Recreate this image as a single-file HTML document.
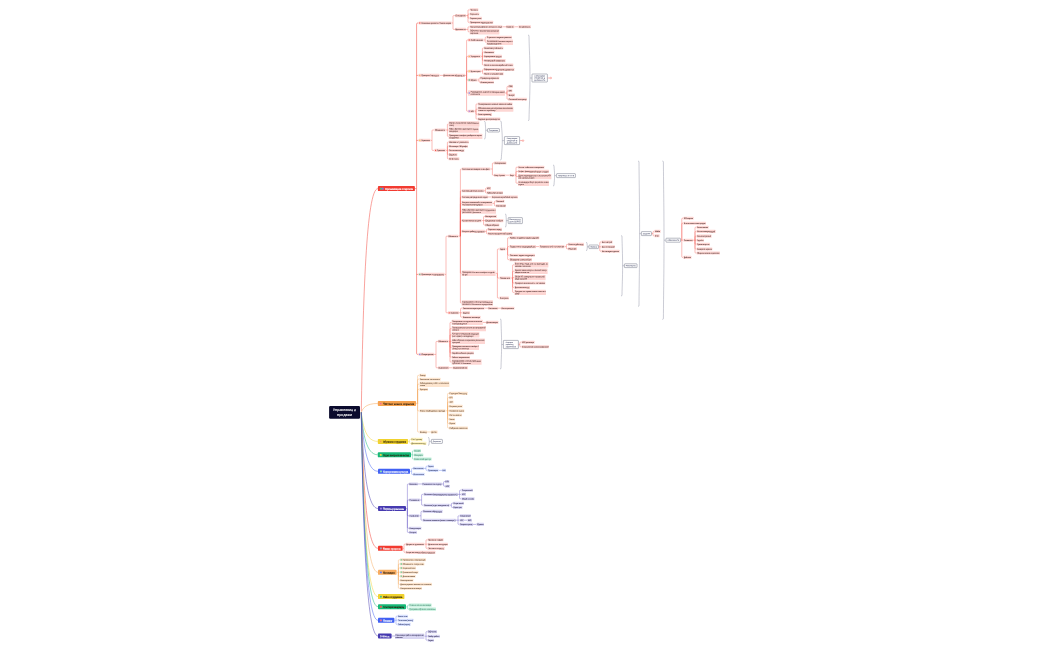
<!DOCTYPE html>
<html lang="ru"><head><meta charset="utf-8"><title>Управление и продажи</title>
<style>html,body{margin:0;padding:0;background:#fff;overflow:hidden}svg{display:block}</style></head>
<body>
<svg width="1050" height="650" viewBox="0 0 1050 650" font-family="'Liberation Sans', sans-serif" text-rendering="geometricPrecision">
<path d="M415 188.6H416.6 M416.6 188.6V24.1Q416.6 23 417.7 23H418.6 M416.6 188.6V353.3Q416.6 354.4 417.7 354.4H418.6 M416.6 75.4H418.6M416.6 140.4H418.6M416.6 274.4H418.6" stroke="#f4574d" stroke-width="0.6" fill="none"/>
<g stroke="#f4574d" stroke-width="0.4" fill="none"><path d="M451.6 23H453"/><path d="M453 23V16.3Q453 15.6 453.7 15.6H455"/><path d="M453 23V28.7Q453 29.4 453.7 29.4H455"/></g>
<g stroke="#f4574d" stroke-width="0.4" fill="none"><path d="M466 15.6H468"/><path d="M468 15.6V10.5Q468 9.8 468.7 9.8H469.6"/><path d="M468 15.6V14.7Q468 14 468.7 14H469.6"/><path d="M468 15.6V17.5Q468 18.2 468.7 18.2H469.6"/><path d="M468 15.6V21.7Q468 22.4 468.7 22.4H469.6"/></g>
<g stroke="#f4574d" stroke-width="0.4" fill="none"><path d="M466 29.4H468"/><path d="M468 29.4V27.5Q468 26.8 468.7 26.8H469.6"/><path d="M468 29.4V31.1Q468 31.8 468.7 31.8H469.6"/></g>
<g stroke="#f4574d" stroke-width="0.4" fill="none"><path d="M502.4 26.8H506"/></g>
<g stroke="#f4574d" stroke-width="0.4" fill="none"><path d="M514.4 26.8H518.4"/></g>
<g stroke="#f4574d" stroke-width="0.4" fill="none"><path d="M439.4 75.4H443"/></g>
<g stroke="#f4574d" stroke-width="0.4" fill="none"><path d="M465 75.4H466.6"/><path d="M466.6 75.4V40.7Q466.6 40 467.3 40H468"/><path d="M466.6 75.4V57.1Q466.6 56.4 467.3 56.4H468"/><path d="M466.6 75.4V71.9Q466.6 71.2 467.3 71.2H468"/><path d="M466.6 75.4V79.3Q466.6 80 467.3 80H468"/><path d="M466.6 75.4V92.3Q466.6 93 467.3 93H468"/><path d="M466.6 75.4V110.5Q466.6 111.2 467.3 111.2H468"/></g>
<g stroke="#f4574d" stroke-width="0.4" fill="none"><path d="M483.6 40H485.2"/><path d="M485.2 40V37.9Q485.2 37.2 485.9 37.2H486.4"/><path d="M485.2 40V41.6Q485.2 42.3 485.9 42.3H486.4"/></g>
<g stroke="#f4574d" stroke-width="0.4" fill="none"><path d="M480.6 56.4H482.4"/><path d="M482.4 56.4V48.7Q482.4 48 483.1 48H483.6"/><path d="M482.4 56.4V52.9Q482.4 52.2 483.1 52.2H483.6"/><path d="M482.4 56.4H483.6"/><path d="M482.4 56.4V59.9Q482.4 60.6 483.1 60.6H483.6"/><path d="M482.4 56.4V64.3Q482.4 65 483.1 65H483.6"/></g>
<g stroke="#f4574d" stroke-width="0.4" fill="none"><path d="M481 71.2H482.6"/><path d="M482.6 71.2V70.1Q482.6 69.4 483.3 69.4H483.6"/><path d="M482.6 71.2V73.1Q482.6 73.8 483.3 73.8H483.6"/></g>
<g stroke="#f4574d" stroke-width="0.4" fill="none"><path d="M477.6 80H479"/><path d="M479 80V78.7Q479 78 479.7 78H480"/><path d="M479 80V81.5Q479 82.2 479.7 82.2H480"/></g>
<g stroke="#f4574d" stroke-width="0.4" fill="none"><path d="M505 93H507"/><path d="M507 93V87.1Q507 86.4 507.7 86.4H508.2"/><path d="M507 93V91.5Q507 90.8 507.7 90.8H508.2"/><path d="M507 93V94.3Q507 95 507.7 95H508.2"/><path d="M507 93V98.5Q507 99.2 507.7 99.2H508.2"/></g>
<g stroke="#f4574d" stroke-width="0.4" fill="none"><path d="M474.4 111.2H476"/><path d="M476 111.2V104.7Q476 104 476.7 104H477.6"/><path d="M476 111.2V109.8Q476 109.1 476.7 109.1H477.6"/><path d="M476 111.2V113.7Q476 114.4 476.7 114.4H477.6"/><path d="M476 111.2V118.3Q476 119 476.7 119H477.6"/></g>
<g stroke="#f4574d" stroke-width="0.4" fill="none"><path d="M430.4 140.4H432"/><path d="M432 140.4V130.7Q432 130 432.7 130H434.4"/><path d="M432 140.4V149.7Q432 150.4 432.7 150.4H434.4"/></g>
<g stroke="#f4574d" stroke-width="0.4" fill="none"><path d="M445.6 130H447.4"/><path d="M447.4 130V124.7Q447.4 124 448.1 124H448.6"/><path d="M447.4 130H448.6"/><path d="M447.4 130V135.7Q447.4 136.4 448.1 136.4H448.6"/></g>
<g stroke="#f4574d" stroke-width="0.4" fill="none"><path d="M445.6 150.4H447.4"/><path d="M447.4 150.4V142.7Q447.4 142 448.1 142H448.6"/><path d="M447.4 150.4V146.9Q447.4 146.2 448.1 146.2H448.6"/><path d="M447.4 150.4H448.6"/><path d="M447.4 150.4V153.9Q447.4 154.6 448.1 154.6H448.6"/><path d="M447.4 150.4V158.1Q447.4 158.8 448.1 158.8H448.6"/></g>
<g stroke="#f4574d" stroke-width="0.4" fill="none"><path d="M444.4 274.4H446"/><path d="M446 274.4V236.9Q446 236.2 446.7 236.2H448"/><path d="M446 274.4V312.1Q446 312.8 446.7 312.8H448"/></g>
<g stroke="#f4574d" stroke-width="0.4" fill="none"><path d="M458.4 236.2H460.4"/><path d="M460.4 236.2V169.7Q460.4 169 461.1 169H461.6"/><path d="M460.4 236.2V191.5Q460.4 190.8 461.1 190.8H461.6"/><path d="M460.4 236.2V197.7Q460.4 197 461.1 197H461.6"/><path d="M460.4 236.2V204.1Q460.4 203.4 461.1 203.4H461.6"/><path d="M460.4 236.2V211.7Q460.4 211 461.1 211H461.6"/><path d="M460.4 236.2V221.3Q460.4 220.6 461.1 220.6H461.6"/><path d="M460.4 236.2V232.1Q460.4 231.4 461.1 231.4H461.6"/><path d="M460.4 236.2V272.6Q460.4 273.3 461.1 273.3H461.6"/><path d="M460.4 236.2V302.3Q460.4 303 461.1 303H461.6"/></g>
<g stroke="#f4574d" stroke-width="0.4" fill="none"><path d="M490.4 169H492.4"/><path d="M492.4 169V163.7Q492.4 163 493.1 163H494"/><path d="M492.4 169V174.5Q492.4 175.2 493.1 175.2H494"/></g>
<g stroke="#f4574d" stroke-width="0.4" fill="none"><path d="M505.4 175.2H509.6"/></g>
<g stroke="#f4574d" stroke-width="0.4" fill="none"><path d="M514.4 175.2H516"/><path d="M516 175.2V167.9Q516 167.2 516.7 167.2H518"/><path d="M516 175.2V172.1Q516 171.4 516.7 171.4H518"/><path d="M516 175.2V175.9Q516 176.6 516.7 176.6H518"/><path d="M516 175.2V182.5Q516 183.2 516.7 183.2H518"/></g>
<g stroke="#f4574d" stroke-width="0.4" fill="none"><path d="M484 190.8H485.4"/><path d="M485.4 190.8V189.1Q485.4 188.4 486.1 188.4H486.4"/><path d="M485.4 190.8V192.1Q485.4 192.8 486.1 192.8H486.4"/></g>
<g stroke="#f4574d" stroke-width="0.4" fill="none"><path d="M488 197H491.4"/></g>
<g stroke="#f4574d" stroke-width="0.4" fill="none"><path d="M492.4 203.4H494.4"/><path d="M494.4 203.4V201.9Q494.4 201.2 495.1 201.2H495.6"/><path d="M494.4 203.4V205.1Q494.4 205.8 495.1 205.8H495.6"/></g>
<g stroke="#f4574d" stroke-width="0.4" fill="none"><path d="M481.6 220.6H483.6"/><path d="M483.6 220.6V217.1Q483.6 216.4 484.3 216.4H485"/><path d="M483.6 220.6H485"/><path d="M483.6 220.6V224.3Q483.6 225 484.3 225H485"/></g>
<g stroke="#f4574d" stroke-width="0.4" fill="none"><path d="M485 231.4H486.4"/><path d="M486.4 231.4V230.1Q486.4 229.4 487.1 229.4H487.6"/><path d="M486.4 231.4V232.9Q486.4 233.6 487.1 233.6H487.6"/></g>
<g stroke="#f4574d" stroke-width="0.4" fill="none"><path d="M495.6 273.3H497.4"/><path d="M497.4 273.3V249.7Q497.4 249 498.1 249H499.4"/><path d="M497.4 273.3V277.3Q497.4 278 498.1 278H499.4"/><path d="M497.4 273.3V297.3Q497.4 298 498.1 298H499.4"/></g>
<g stroke="#f4574d" stroke-width="0.4" fill="none"><path d="M505.6 249H507.6"/><path d="M507.6 249V238.5Q507.6 237.8 508.3 237.8H509.4"/><path d="M507.6 249V247.3Q507.6 246.6 508.3 246.6H509.4"/><path d="M507.6 249V254.5Q507.6 255.2 508.3 255.2H509.4"/><path d="M507.6 249V258.9Q507.6 259.6 508.3 259.6H509.4"/></g>
<g stroke="#f4574d" stroke-width="0.4" fill="none"><path d="M536 246.6H539.4"/></g>
<g stroke="#f4574d" stroke-width="0.4" fill="none"><path d="M564.4 246.6H566.4"/><path d="M566.4 246.6V245.1Q566.4 244.4 567.1 244.4H568"/><path d="M566.4 246.6V248.1Q566.4 248.8 567.1 248.8H568"/></g>
<g stroke="#f4574d" stroke-width="0.4" fill="none"><path d="M510.6 278H512.6"/><path d="M512.6 278V265.5Q512.6 264.8 513.3 264.8H514.4"/><path d="M512.6 278V271.9Q512.6 271.2 513.3 271.2H514.4"/><path d="M512.6 278V278Q512.6 277.6 513 277.6H514.4"/><path d="M512.6 278V282.3Q512.6 283 513.3 283H514.4"/><path d="M512.6 278V286.7Q512.6 287.4 513.3 287.4H514.4"/><path d="M512.6 278V291.7Q512.6 292.4 513.3 292.4H514.4"/></g>
<g stroke="#f4574d" stroke-width="0.4" fill="none"><path d="M459 312.8H460.6"/><path d="M460.6 312.8V308.9Q460.6 308.2 461.3 308.2H462.4"/><path d="M460.6 312.8H462.4"/><path d="M460.6 312.8V316.5Q460.6 317.2 461.3 317.2H462.4"/></g>
<g stroke="#f4574d" stroke-width="0.4" fill="none"><path d="M484.4 308.2H488"/></g>
<g stroke="#f4574d" stroke-width="0.4" fill="none"><path d="M498 308.2H501"/></g>
<g stroke="#f4574d" stroke-width="0.4" fill="none"><path d="M434 354.4H436"/><path d="M436 354.4V342.1Q436 341.4 436.7 341.4H438"/><path d="M436 354.4V367.1Q436 367.8 436.7 367.8H438"/></g>
<g stroke="#f4574d" stroke-width="0.4" fill="none"><path d="M448.4 341.4H450"/><path d="M450 341.4V323.1Q450 322.4 450.7 322.4H451.6"/><path d="M450 341.4V329.3Q450 328.6 450.7 328.6H451.6"/><path d="M450 341.4V335.5Q450 334.8 450.7 334.8H451.6"/><path d="M450 341.4V341.4Q450 341.2 450.2 341.2H451.6"/><path d="M450 341.4V346.7Q450 347.4 450.7 347.4H451.6"/><path d="M450 341.4V352.3Q450 353 450.7 353H451.6"/><path d="M450 341.4V356.5Q450 357.2 450.7 357.2H451.6"/><path d="M450 341.4V361.3Q450 362 450.7 362H451.6"/></g>
<g stroke="#f4574d" stroke-width="0.4" fill="none"><path d="M482.8 322.4H486"/></g>
<g stroke="#f4574d" stroke-width="0.4" fill="none"><path d="M449 367.8H452.6"/></g>
<path d="M528 35Q529 35 529 36C529.25 50.7 530 59.1 530 78C530 96.72 529.25 105.04 529 119.6Q529 120.6 528 120.6M530 78H532" stroke="#6d7088" stroke-width="0.36" fill="none"/>
<path d="M547.4 78h2.6m1.6 0a0.8 0.8 0 1 0 -1.6 0a0.8 0.8 0 1 0 1.6 0" stroke="#f4574d" stroke-width="0.4" fill="#fff"/>
<path d="M484.2 121.4Q485.2 121.4 485.2 122.4C485.32 125.17 485.7 126.75 485.7 130.3C485.7 133.77 485.32 135.31 485.2 138Q485.2 139 484.2 139M485.7 130.3H487.5" stroke="#6d7088" stroke-width="0.36" fill="none"/>
<path d="M500.3 121Q501.3 121 501.3 122C501.55 128.51 502.3 132.23 502.3 140.6C502.3 148.88 501.55 152.56 501.3 159Q501.3 160 500.3 160M502.3 140.6H504.3" stroke="#6d7088" stroke-width="0.36" fill="none"/>
<path d="M519.6 140.6h2.6m1.6 0a0.8 0.8 0 1 0 -1.6 0a0.8 0.8 0 1 0 1.6 0" stroke="#f4574d" stroke-width="0.4" fill="#fff"/>
<path d="M553 165Q554 165 554 166C554.15 169.36 554.6 171.28 554.6 175.6C554.6 179.83 554.15 181.71 554 185Q554 186 553 186M554.6 175.6H556.2" stroke="#6d7088" stroke-width="0.36" fill="none"/>
<path d="M505 214Q506 214 506 215C506.07 216.96 506.3 218.08 506.3 220.6C506.3 223.03 506.07 224.11 506 226Q506 227 505 227M506.3 220.6H508.2" stroke="#6d7088" stroke-width="0.36" fill="none"/>
<path d="M586 242.4Q587 242.4 587 243.4C587.08 244.59 587.3 245.27 587.3 246.8C587.3 248.06 587.08 248.62 587 249.6Q587 250.6 586 250.6M587.3 246.8H589" stroke="#6d7088" stroke-width="0.36" fill="none"/>
<g stroke="#f4574d" stroke-width="0.4" fill="none"><path d="M598.4 246.8H599.8"/><path d="M599.8 246.8V242.7Q599.8 242 600.5 242H601.4"/><path d="M599.8 246.8H601.4"/><path d="M599.8 246.8V250.5Q599.8 251.2 600.5 251.2H601.4"/></g>
<path d="M621 235.6Q622 235.6 622 236.6C622.15 246.78 622.6 252.6 622.6 265.7C622.6 278.88 622.15 284.75 622 295Q622 296 621 296M622.6 265.7H624.2" stroke="#6d7088" stroke-width="0.36" fill="none"/>
<path d="M638 161Q639 161 639 162C639.15 187.06 639.6 201.38 639.6 233.6C639.6 265.91 639.15 280.27 639 305.4Q639 306.4 638 306.4M639.6 233.6H641.2" stroke="#6d7088" stroke-width="0.36" fill="none"/>
<g stroke="#f4574d" stroke-width="0.4" fill="none"><path d="M651.4 233.6H653"/><path d="M653 233.6V232.1Q653 231.4 653.7 231.4H654.4"/><path d="M653 233.6V235.1Q653 235.8 653.7 235.8H654.4"/></g>
<path d="M662.4 161Q663.4 161 663.4 162C663.55 189.37 664 205.01 664 240.2C664 275.39 663.55 291.03 663.4 318.4Q663.4 319.4 662.4 319.4M664 240.2H665.6" stroke="#6d7088" stroke-width="0.36" fill="none"/>
<g stroke="#f4574d" stroke-width="0.4" fill="none"><path d="M680.4 240.2H681.8"/><path d="M681.8 240.2V218.9Q681.8 218.2 682.5 218.2H683.4"/><path d="M681.8 240.2V223.9Q681.8 223.2 682.5 223.2H683.4"/><path d="M681.8 240.2H683.4"/><path d="M681.8 240.2V256.7Q681.8 257.4 682.5 257.4H683.4"/></g>
<g stroke="#f4574d" stroke-width="0.4" fill="none"><path d="M693 240.2H695"/><path d="M695 240.2V227.9Q695 227.2 695.7 227.2H696.6"/><path d="M695 240.2V232.1Q695 231.4 695.7 231.4H696.6"/><path d="M695 240.2V236.8Q695 236.1 695.7 236.1H696.6"/><path d="M695 240.2H696.6"/><path d="M695 240.2V243.5Q695 244.2 695.7 244.2H696.6"/><path d="M695 240.2V248.3Q695 249 695.7 249H696.6"/><path d="M695 240.2V252.3Q695 253 695.7 253H696.6"/></g>
<path d="M500 319Q501 319 501 320C501.15 328.57 501.6 333.48 501.6 344.5C501.6 355.07 501.15 359.77 501 368Q501 369 500 369M501.6 344.5H503.2" stroke="#6d7088" stroke-width="0.36" fill="none"/>
<g stroke="#f4574d" stroke-width="0.4" fill="none"><path d="M518.4 344.5H519.8"/><path d="M519.8 344.5V342.9Q519.8 342.2 520.5 342.2H521.6"/><path d="M519.8 344.5V346.1Q519.8 346.8 520.5 346.8H521.6"/></g>
<g stroke="#f6a65c" stroke-width="0.4" fill="none"><path d="M416.1 403.5H417.6"/><path d="M417.6 403.5V376.1Q417.6 375.4 418.3 375.4H419.4"/><path d="M417.6 403.5V379.9Q417.6 379.2 418.3 379.2H419.4"/><path d="M417.6 403.5V384.9Q417.6 384.2 418.3 384.2H419.4"/><path d="M417.6 403.5V390.1Q417.6 389.4 418.3 389.4H419.4"/><path d="M417.6 403.5V410.1Q417.6 410.8 418.3 410.8H419.4"/><path d="M417.6 403.5V431.3Q417.6 432 418.3 432H419.4"/></g>
<g stroke="#f6a65c" stroke-width="0.4" fill="none"><path d="M445.6 410.8H447.6"/><path d="M447.6 410.8V394.1Q447.6 393.4 448.3 393.4H449"/><path d="M447.6 410.8V398.3Q447.6 397.6 448.3 397.6H449"/><path d="M447.6 410.8V402.7Q447.6 402 448.3 402H449"/><path d="M447.6 410.8V406.9Q447.6 406.2 448.3 406.2H449"/><path d="M447.6 410.8H449"/><path d="M447.6 410.8V414.3Q447.6 415 448.3 415H449"/><path d="M447.6 410.8V418.5Q447.6 419.2 448.3 419.2H449"/><path d="M447.6 410.8V422.7Q447.6 423.4 448.3 423.4H449"/><path d="M447.6 410.8V427.3Q447.6 428 448.3 428H449"/></g>
<g stroke="#f6a65c" stroke-width="0.4" fill="none"><path d="M427 432H431"/></g>
<g stroke="#efd23a" stroke-width="0.4" fill="none"><path d="M408.1 441.4H409.6"/><path d="M409.6 441.4V440.1Q409.6 439.4 410.3 439.4H411"/><path d="M409.6 441.4V442.7Q409.6 443.4 410.3 443.4H411"/></g>
<path d="M428 437.4Q429 437.4 429 438.4C429.07 439.45 429.3 440.05 429.3 441.4C429.3 442.75 429.07 443.35 429 444.4Q429 445.4 428 445.4M429.3 441.4H430.9" stroke="#6d7088" stroke-width="0.36" fill="none"/>
<g stroke="#2fc48c" stroke-width="0.4" fill="none"><path d="M411 454.8H412.4"/><path d="M412.4 454.8V451.5Q412.4 450.8 413.1 450.8H413.6"/><path d="M412.4 454.8V454.8Q412.4 455 412.6 455H413.6"/><path d="M412.4 454.8V458.3Q412.4 459 413.1 459H413.6"/></g>
<g stroke="#5b7cf2" stroke-width="0.4" fill="none"><path d="M410 471.3H411.6"/><path d="M411.6 471.3V469.1Q411.6 468.4 412.3 468.4H413"/><path d="M411.6 471.3V473.7Q411.6 474.4 412.3 474.4H413"/></g>
<g stroke="#5b7cf2" stroke-width="0.4" fill="none"><path d="M424 468.4H426"/><path d="M426 468.4V466.9Q426 466.2 426.7 466.2H427.6"/><path d="M426 468.4V469.7Q426 470.4 426.7 470.4H427.6"/></g>
<g stroke="#5b7cf2" stroke-width="0.4" fill="none"><path d="M438.4 470.4H442"/></g>
<g stroke="#5a4cc2" stroke-width="0.4" fill="none"><path d="M406 508.5H407.4"/><path d="M407.4 508.5V484.7Q407.4 484 408.1 484H409"/><path d="M407.4 508.5V500.7Q407.4 500 408.1 500H409"/><path d="M407.4 508.5V515.1Q407.4 515.8 408.1 515.8H409"/><path d="M407.4 508.5V527.5Q407.4 528.2 408.1 528.2H409"/><path d="M407.4 508.5V531.7Q407.4 532.4 408.1 532.4H409"/></g>
<g stroke="#5a4cc2" stroke-width="0.4" fill="none"><path d="M418 484H422"/></g>
<g stroke="#5a4cc2" stroke-width="0.4" fill="none"><path d="M442 484H443.6"/><path d="M443.6 484V482.3Q443.6 481.6 444.3 481.6H445"/><path d="M443.6 484V485.5Q443.6 486.2 444.3 486.2H445"/></g>
<g stroke="#5a4cc2" stroke-width="0.4" fill="none"><path d="M420 500H421.6"/><path d="M421.6 500V495.1Q421.6 494.4 422.3 494.4H423.6"/><path d="M421.6 500V504.5Q421.6 505.2 422.3 505.2H423.6"/></g>
<g stroke="#5a4cc2" stroke-width="0.4" fill="none"><path d="M458 494.4H459.6"/><path d="M459.6 494.4V490.9Q459.6 490.2 460.3 490.2H461.4"/><path d="M459.6 494.4H461.4"/><path d="M459.6 494.4V498.1Q459.6 498.8 460.3 498.8H461.4"/></g>
<g stroke="#5a4cc2" stroke-width="0.4" fill="none"><path d="M449.6 505.2H451.4"/><path d="M451.4 505.2V503.9Q451.4 503.2 452.1 503.2H453"/><path d="M451.4 505.2V506.7Q451.4 507.4 452.1 507.4H453"/></g>
<g stroke="#5a4cc2" stroke-width="0.4" fill="none"><path d="M419.4 515.8H421"/><path d="M421 515.8V512.1Q421 511.4 421.7 511.4H422.6"/><path d="M421 515.8V519.5Q421 520.2 421.7 520.2H422.6"/></g>
<g stroke="#5a4cc2" stroke-width="0.4" fill="none"><path d="M456 520.2H458"/><path d="M458 520.2V516.5Q458 515.8 458.7 515.8H459.6"/><path d="M458 520.2H459.6"/><path d="M458 520.2V523.7Q458 524.4 458.7 524.4H459.6"/></g>
<g stroke="#5a4cc2" stroke-width="0.4" fill="none"><path d="M464 520.2H467.4"/></g>
<g stroke="#5a4cc2" stroke-width="0.4" fill="none"><path d="M473 524.4H476.6"/></g>
<g stroke="#f4574d" stroke-width="0.4" fill="none"><path d="M402.6 548.3H404"/><path d="M404 548.3V544.9Q404 544.2 404.7 544.2H405.6"/><path d="M404 548.3V551.7Q404 552.4 404.7 552.4H405.6"/></g>
<g stroke="#f4574d" stroke-width="0.4" fill="none"><path d="M424.4 544.2H426"/><path d="M426 544.2V540.5Q426 539.8 426.7 539.8H427.6"/><path d="M426 544.2H427.6"/><path d="M426 544.2V547.7Q426 548.4 426.7 548.4H427.6"/></g>
<g stroke="#f6a65c" stroke-width="0.4" fill="none"><path d="M396.6 572.3H398.4"/><path d="M398.4 572.3V560.5Q398.4 559.8 399.1 559.8H400"/><path d="M398.4 572.3V564.7Q398.4 564 399.1 564H400"/><path d="M398.4 572.3V568.7Q398.4 568 399.1 568H400"/><path d="M398.4 572.3V572.3Q398.4 572.2 398.5 572.2H400"/><path d="M398.4 572.3V575.5Q398.4 576.2 399.1 576.2H400"/><path d="M398.4 572.3V579.6Q398.4 580.3 399.1 580.3H400"/><path d="M398.4 572.3V583.6Q398.4 584.3 399.1 584.3H400"/><path d="M398.4 572.3V587.6Q398.4 588.3 399.1 588.3H400"/></g>
<g stroke="#2fc48c" stroke-width="0.4" fill="none"><path d="M406 606.9H407.6"/><path d="M407.6 606.9V605.8Q407.6 605.1 408.3 605.1H409"/><path d="M407.6 606.9V608.4Q407.6 609.1 408.3 609.1H409"/></g>
<g stroke="#5b7cf2" stroke-width="0.4" fill="none"><path d="M394.4 620.3H396"/><path d="M396 620.3V616.9Q396 616.2 396.7 616.2H397.6"/><path d="M396 620.3V620.3Q396 620.2 396.1 620.2H397.6"/><path d="M396 620.3V623.7Q396 624.4 396.7 624.4H397.6"/></g>
<g stroke="#5a4cc2" stroke-width="0.4" fill="none"><path d="M391.6 636H395"/></g>
<g stroke="#5a4cc2" stroke-width="0.4" fill="none"><path d="M424.4 636.2H426"/><path d="M426 636.2V632.3Q426 631.6 426.7 631.6H427.6"/><path d="M426 636.2H427.6"/><path d="M426 636.2V639.5Q426 640.2 426.7 640.2H427.6"/></g>
<path d="M361.3 411.3C362.96 299.95 366.28 188.6 377.9 188.6" stroke="#f4574d" stroke-width="0.55" fill="none"/>
<path d="M361.3 412.3C362.95 407.9 366.25 403.5 377.8 403.5" stroke="#f6a24f" stroke-width="0.5" fill="none"/>
<path d="M361.3 412.3C362.95 426.85 366.25 441.4 377.8 441.4" stroke="#f0d22e" stroke-width="0.5" fill="none"/>
<path d="M361.3 412.3C362.95 433.55 366.25 454.8 377.8 454.8" stroke="#17b978" stroke-width="0.5" fill="none"/>
<path d="M361.3 412.3C362.97 441.8 366.31 471.3 378 471.3" stroke="#4161f3" stroke-width="0.5" fill="none"/>
<path d="M361.3 412.3C362.97 460.4 366.31 508.5 378 508.5" stroke="#463ab0" stroke-width="0.5" fill="none"/>
<path d="M361.3 412.3C362.97 480.3 366.31 548.3 378 548.3" stroke="#f23b31" stroke-width="0.5" fill="none"/>
<path d="M361.3 412.3C362.97 492.3 366.31 572.3 378 572.3" stroke="#f7ab5e" stroke-width="0.5" fill="none"/>
<path d="M361.3 412.3C362.97 504.45 366.31 596.6 378 596.6" stroke="#f0d22e" stroke-width="0.5" fill="none"/>
<path d="M361.3 412.3C362.97 509.5 366.31 606.7 378 606.7" stroke="#17b978" stroke-width="0.5" fill="none"/>
<path d="M361.3 412.3C362.97 516.3 366.31 620.3 378 620.3" stroke="#4161f3" stroke-width="0.5" fill="none"/>
<path d="M361.3 412.3C362.97 524.15 366.31 636 378 636" stroke="#463ab0" stroke-width="0.5" fill="none"/>
<rect x="329.1" y="406.1" width="30.9" height="12.7" rx="1.2" fill="#0b0b2d"/>
<text transform="matrix(1 .004 0 1 344.6 411.1)" font-size="3.7" font-weight="bold" fill="#fff" text-anchor="middle" textLength="23" lengthAdjust="spacingAndGlyphs">Управление и</text>
<text transform="matrix(1 .004 0 1 344.6 416.1)" font-size="3.7" font-weight="bold" fill="#fff" text-anchor="middle" textLength="15" lengthAdjust="spacingAndGlyphs">продажи</text>
<rect x="418.6" y="21.45" width="33" height="3.1" rx="0.5" fill="#fdd6d3"/>
<rect x="419.2" y="22.35" width="1.2" height="1.3" rx="0.3" fill="#f2453d" fill-opacity="0.9"/>
<text transform="matrix(1 .004 0 1 421.4 23.68)" font-size="2" fill="#5b3a38" textLength="29.6" lengthAdjust="spacingAndGlyphs" stroke="#5b3a38" stroke-width="0.07">Ключевые ценности / Компетенции</text>
<rect x="455" y="14.05" width="11" height="3.1" rx="0.5" fill="#fdd6d3"/>
<text transform="matrix(1 .004 0 1 455.6 16.28)" font-size="2" fill="#5b3a38" textLength="9.8" lengthAdjust="spacingAndGlyphs" stroke="#5b3a38" stroke-width="0.07">Отношения</text>
<rect x="469.6" y="8.25" width="8.8" height="3.1" rx="0.5" fill="#fdd6d3"/>
<text transform="matrix(1 .004 0 1 470.2 10.48)" font-size="2" fill="#5b3a38" textLength="7.6" lengthAdjust="spacingAndGlyphs" stroke="#5b3a38" stroke-width="0.07">Честность</text>
<rect x="469.6" y="12.45" width="9.8" height="3.1" rx="0.5" fill="#fdd6d3"/>
<text transform="matrix(1 .004 0 1 470.2 14.68)" font-size="2" fill="#5b3a38" textLength="8.6" lengthAdjust="spacingAndGlyphs" stroke="#5b3a38" stroke-width="0.07">Открытость</text>
<rect x="469.6" y="16.65" width="12.4" height="3.1" rx="0.5" fill="#fdd6d3"/>
<text transform="matrix(1 .004 0 1 470.2 18.88)" font-size="2" fill="#5b3a38" textLength="11.2" lengthAdjust="spacingAndGlyphs" stroke="#5b3a38" stroke-width="0.07">Опережать рынок</text>
<rect x="469.6" y="20.85" width="23.6" height="3.1" rx="0.5" fill="#fdd6d3"/>
<text transform="matrix(1 .004 0 1 470.2 23.08)" font-size="2" fill="#5b3a38" textLength="22.4" lengthAdjust="spacingAndGlyphs" stroke="#5b3a38" stroke-width="0.07">Проверенные характеристики</text>
<rect x="455" y="27.85" width="11" height="3.1" rx="0.5" fill="#fdd6d3"/>
<text transform="matrix(1 .004 0 1 455.6 30.08)" font-size="2" fill="#5b3a38" textLength="9.8" lengthAdjust="spacingAndGlyphs" stroke="#5b3a38" stroke-width="0.07">Ценности</text>
<rect x="469.6" y="25.25" width="32.8" height="3.1" rx="0.5" fill="#fdd6d3"/>
<text transform="matrix(1 .004 0 1 470.2 27.48)" font-size="2" fill="#5b3a38" textLength="31.6" lengthAdjust="spacingAndGlyphs" stroke="#5b3a38" stroke-width="0.07">Постоянное развитие личности и лица</text>
<rect x="506" y="25.25" width="8.4" height="3.1" rx="0.5" fill="#fdd6d3"/>
<text transform="matrix(1 .004 0 1 506.6 27.48)" font-size="2" fill="#5b3a38" textLength="7.2" lengthAdjust="spacingAndGlyphs" stroke="#5b3a38" stroke-width="0.07">Комитет</text>
<rect x="518.4" y="25.25" width="12.6" height="3.1" rx="0.5" fill="#fdd6d3"/>
<text transform="matrix(1 .004 0 1 519 27.48)" font-size="2" fill="#5b3a38" textLength="11.4" lengthAdjust="spacingAndGlyphs" stroke="#5b3a38" stroke-width="0.07">Ситуативность</text>
<rect x="469.6" y="29.1" width="29.8" height="5.4" rx="0.5" fill="#fdd6d3"/>
<text transform="matrix(1 .004 0 1 470.2 31.33)" font-size="2" fill="#5b3a38" textLength="28.6" lengthAdjust="spacingAndGlyphs" stroke="#5b3a38" stroke-width="0.07">Обучение сторонней миссионерской</text>
<text transform="matrix(1 .004 0 1 470.2 33.63)" font-size="2" fill="#5b3a38" textLength="8.04" lengthAdjust="spacingAndGlyphs" stroke="#5b3a38" stroke-width="0.07">персонала</text>
<rect x="418.6" y="73.85" width="20.8" height="3.1" rx="0.5" fill="#fdd6d3"/>
<rect x="419.2" y="74.75" width="1.2" height="1.3" rx="0.3" fill="#f7a54a" fill-opacity="0.9"/>
<text transform="matrix(1 .004 0 1 421.4 76.08)" font-size="2" fill="#5b3a38" textLength="17.4" lengthAdjust="spacingAndGlyphs" stroke="#5b3a38" stroke-width="0.07">Принципы / ценности</text>
<rect x="443" y="73.85" width="22" height="3.1" rx="0.5" fill="#fdd6d3"/>
<text transform="matrix(1 .004 0 1 443.6 76.08)" font-size="2" fill="#5b3a38" textLength="20.8" lengthAdjust="spacingAndGlyphs" stroke="#5b3a38" stroke-width="0.07">Должностные обязанности</text>
<rect x="468" y="38.45" width="15.6" height="3.1" rx="0.5" fill="#fdd6d3"/>
<rect x="468.6" y="39.35" width="1.2" height="1.3" rx="0.3" fill="#f2453d" fill-opacity="0.9"/>
<text transform="matrix(1 .004 0 1 470.8 40.68)" font-size="2" fill="#5b3a38" textLength="12.2" lengthAdjust="spacingAndGlyphs" stroke="#5b3a38" stroke-width="0.07">Собственник</text>
<rect x="486.4" y="35.65" width="25.6" height="3.1" rx="0.5" fill="#fdd6d3"/>
<text transform="matrix(1 .004 0 1 487 37.88)" font-size="2" fill="#5b3a38" textLength="24.4" lengthAdjust="spacingAndGlyphs" stroke="#5b3a38" stroke-width="0.07">Стратегия и видение развития</text>
<rect x="486.4" y="39.6" width="26.6" height="5.4" rx="0.5" fill="#fdd6d3"/>
<text transform="matrix(1 .004 0 1 487 41.83)" font-size="2" fill="#5b3a38" textLength="25.4" lengthAdjust="spacingAndGlyphs" stroke="#5b3a38" stroke-width="0.07">Согласование ключевых затрат и</text>
<text transform="matrix(1 .004 0 1 487 44.13)" font-size="2" fill="#5b3a38" textLength="14.39" lengthAdjust="spacingAndGlyphs" stroke="#5b3a38" stroke-width="0.07">перераспределение</text>
<rect x="468" y="54.85" width="12.6" height="3.1" rx="0.5" fill="#fdd6d3"/>
<rect x="468.6" y="55.75" width="1.2" height="1.3" rx="0.3" fill="#f7a54a" fill-opacity="0.9"/>
<text transform="matrix(1 .004 0 1 470.8 57.08)" font-size="2" fill="#5b3a38" textLength="9.2" lengthAdjust="spacingAndGlyphs" stroke="#5b3a38" stroke-width="0.07">Учредитель</text>
<rect x="483.6" y="46.45" width="19.8" height="3.1" rx="0.5" fill="#fdd6d3"/>
<text transform="matrix(1 .004 0 1 484.2 48.68)" font-size="2" fill="#5b3a38" textLength="18.6" lengthAdjust="spacingAndGlyphs" stroke="#5b3a38" stroke-width="0.07">Финансовая устойчивость</text>
<rect x="483.6" y="50.65" width="10.8" height="3.1" rx="0.5" fill="#fdd6d3"/>
<text transform="matrix(1 .004 0 1 484.2 52.88)" font-size="2" fill="#5b3a38" textLength="9.6" lengthAdjust="spacingAndGlyphs" stroke="#5b3a38" stroke-width="0.07">Финансы</text>
<rect x="483.6" y="54.85" width="18.4" height="3.1" rx="0.5" fill="#fdd6d3"/>
<text transform="matrix(1 .004 0 1 484.2 57.08)" font-size="2" fill="#5b3a38" textLength="17.2" lengthAdjust="spacingAndGlyphs" stroke="#5b3a38" stroke-width="0.07">Формирование миссии</text>
<rect x="483.6" y="59.05" width="22" height="3.1" rx="0.5" fill="#fdd6d3"/>
<text transform="matrix(1 .004 0 1 484.2 61.28)" font-size="2" fill="#5b3a38" textLength="20.8" lengthAdjust="spacingAndGlyphs" stroke="#5b3a38" stroke-width="0.07">Финансовый показатель</text>
<rect x="483.6" y="63.45" width="29.8" height="3.1" rx="0.5" fill="#fdd6d3"/>
<text transform="matrix(1 .004 0 1 484.2 65.68)" font-size="2" fill="#5b3a38" textLength="28.6" lengthAdjust="spacingAndGlyphs" stroke="#5b3a38" stroke-width="0.07">Расчёт и выплата заработной платы</text>
<rect x="468" y="69.65" width="13" height="3.1" rx="0.5" fill="#fdd6d3"/>
<rect x="468.6" y="70.55" width="1.2" height="1.3" rx="0.3" fill="#f3d32f" fill-opacity="0.9"/>
<text transform="matrix(1 .004 0 1 470.8 71.88)" font-size="2" fill="#5b3a38" textLength="9.6" lengthAdjust="spacingAndGlyphs" stroke="#5b3a38" stroke-width="0.07">Бухгалтерия</text>
<rect x="483.6" y="67.85" width="30.8" height="3.1" rx="0.5" fill="#fdd6d3"/>
<text transform="matrix(1 .004 0 1 484.2 70.08)" font-size="2" fill="#5b3a38" textLength="29.6" lengthAdjust="spacingAndGlyphs" stroke="#5b3a38" stroke-width="0.07">Официальное оформление документов</text>
<rect x="483.6" y="72.25" width="20" height="3.1" rx="0.5" fill="#fdd6d3"/>
<text transform="matrix(1 .004 0 1 484.2 74.48)" font-size="2" fill="#5b3a38" textLength="18.8" lengthAdjust="spacingAndGlyphs" stroke="#5b3a38" stroke-width="0.07">Расчёт с контрагентами</text>
<rect x="468" y="78.45" width="9.6" height="3.1" rx="0.5" fill="#fdd6d3"/>
<rect x="468.6" y="79.35" width="1.2" height="1.3" rx="0.3" fill="#2bbf7d" fill-opacity="0.9"/>
<text transform="matrix(1 .004 0 1 470.8 80.68)" font-size="2" fill="#5b3a38" textLength="6.2" lengthAdjust="spacingAndGlyphs" stroke="#5b3a38" stroke-width="0.07">Юрист</text>
<rect x="480" y="76.45" width="19.4" height="3.1" rx="0.5" fill="#fdd6d3"/>
<text transform="matrix(1 .004 0 1 480.6 78.68)" font-size="2" fill="#5b3a38" textLength="18.2" lengthAdjust="spacingAndGlyphs" stroke="#5b3a38" stroke-width="0.07">Проверка документов</text>
<rect x="480" y="80.65" width="14" height="3.1" rx="0.5" fill="#fdd6d3"/>
<text transform="matrix(1 .004 0 1 480.6 82.88)" font-size="2" fill="#5b3a38" textLength="12.8" lengthAdjust="spacingAndGlyphs" stroke="#5b3a38" stroke-width="0.07">Анализ рисков</text>
<rect x="468" y="90.3" width="37" height="5.4" rx="0.5" fill="#fdd6d3"/>
<rect x="468.6" y="92.35" width="1.2" height="1.3" rx="0.3" fill="#5a78f0" fill-opacity="0.9"/>
<text transform="matrix(1 .004 0 1 470.8 92.53)" font-size="2" fill="#5b3a38" textLength="33.6" lengthAdjust="spacingAndGlyphs" stroke="#5b3a38" stroke-width="0.07">Руководитель отдела по корпоративной</text>
<text transform="matrix(1 .004 0 1 470.8 94.83)" font-size="2" fill="#5b3a38" textLength="9.33" lengthAdjust="spacingAndGlyphs" stroke="#5b3a38" stroke-width="0.07">отчётности</text>
<rect x="508.2" y="84.85" width="4.8" height="3.1" rx="0.5" fill="#fdd6d3"/>
<text transform="matrix(1 .004 0 1 508.8 87.08)" font-size="2" fill="#5b3a38" textLength="3.6" lengthAdjust="spacingAndGlyphs" stroke="#5b3a38" stroke-width="0.07">CRM</text>
<rect x="508.2" y="89.25" width="4.2" height="3.1" rx="0.5" fill="#fdd6d3"/>
<text transform="matrix(1 .004 0 1 508.8 91.48)" font-size="2" fill="#5b3a38" textLength="3" lengthAdjust="spacingAndGlyphs" stroke="#5b3a38" stroke-width="0.07">KPI</text>
<rect x="508.2" y="93.45" width="6.8" height="3.1" rx="0.5" fill="#fdd6d3"/>
<text transform="matrix(1 .004 0 1 508.8 95.68)" font-size="2" fill="#5b3a38" textLength="5.6" lengthAdjust="spacingAndGlyphs" stroke="#5b3a38" stroke-width="0.07">Бонус</text>
<rect x="508.2" y="97.65" width="18.8" height="3.1" rx="0.5" fill="#fdd6d3"/>
<text transform="matrix(1 .004 0 1 508.8 99.88)" font-size="2" fill="#5b3a38" textLength="17.6" lengthAdjust="spacingAndGlyphs" stroke="#5b3a38" stroke-width="0.07">Системный интегратор</text>
<rect x="468" y="109.65" width="6.4" height="3.1" rx="0.5" fill="#fdd6d3"/>
<rect x="468.6" y="110.55" width="1.2" height="1.3" rx="0.3" fill="#8a55e0" fill-opacity="0.9"/>
<text transform="matrix(1 .004 0 1 470.8 111.88)" font-size="2" fill="#5b3a38" textLength="3" lengthAdjust="spacingAndGlyphs" stroke="#5b3a38" stroke-width="0.07">HR</text>
<rect x="477.6" y="102.45" width="35" height="3.1" rx="0.5" fill="#fdd6d3"/>
<text transform="matrix(1 .004 0 1 478.2 104.68)" font-size="2" fill="#5b3a38" textLength="33.8" lengthAdjust="spacingAndGlyphs" stroke="#5b3a38" stroke-width="0.07">Планирование ключевых моментов найма</text>
<rect x="477.6" y="106.4" width="35.8" height="5.4" rx="0.5" fill="#fdd6d3"/>
<text transform="matrix(1 .004 0 1 478.2 108.63)" font-size="2" fill="#5b3a38" textLength="34.6" lengthAdjust="spacingAndGlyphs" stroke="#5b3a38" stroke-width="0.07">Обязательное долгосрочное выполнение</text>
<text transform="matrix(1 .004 0 1 478.2 110.93)" font-size="2" fill="#5b3a38" textLength="17.3" lengthAdjust="spacingAndGlyphs" stroke="#5b3a38" stroke-width="0.07">плана по персоналу</text>
<rect x="477.6" y="112.85" width="14.4" height="3.1" rx="0.5" fill="#fdd6d3"/>
<text transform="matrix(1 .004 0 1 478.2 115.08)" font-size="2" fill="#5b3a38" textLength="13.2" lengthAdjust="spacingAndGlyphs" stroke="#5b3a38" stroke-width="0.07">Анкетирование</text>
<rect x="477.6" y="117.45" width="22.8" height="3.1" rx="0.5" fill="#fdd6d3"/>
<text transform="matrix(1 .004 0 1 478.2 119.68)" font-size="2" fill="#5b3a38" textLength="21.6" lengthAdjust="spacingAndGlyphs" stroke="#5b3a38" stroke-width="0.07">Кадровое делопроизводство</text>
<rect x="418.6" y="138.85" width="11.8" height="3.1" rx="0.5" fill="#fdd6d3"/>
<rect x="419.2" y="139.75" width="1.2" height="1.3" rx="0.3" fill="#f3d32f" fill-opacity="0.9"/>
<text transform="matrix(1 .004 0 1 421.4 141.08)" font-size="2" fill="#5b3a38" textLength="8.4" lengthAdjust="spacingAndGlyphs" stroke="#5b3a38" stroke-width="0.07">Управление</text>
<rect x="434.4" y="128.45" width="11.2" height="3.1" rx="0.5" fill="#fdd6d3"/>
<text transform="matrix(1 .004 0 1 435 130.68)" font-size="2" fill="#5b3a38" textLength="10" lengthAdjust="spacingAndGlyphs" stroke="#5b3a38" stroke-width="0.07">Обязанности</text>
<rect x="448.6" y="121.3" width="30.8" height="5.4" rx="0.5" fill="#fdd6d3"/>
<text transform="matrix(1 .004 0 1 449.2 123.53)" font-size="2" fill="#5b3a38" textLength="29.6" lengthAdjust="spacingAndGlyphs" stroke="#5b3a38" stroke-width="0.07">Изучать выполнение нормативов по</text>
<text transform="matrix(1 .004 0 1 449.2 125.83)" font-size="2" fill="#5b3a38" textLength="4.62" lengthAdjust="spacingAndGlyphs" stroke="#5b3a38" stroke-width="0.07">плану</text>
<rect x="448.6" y="127.3" width="30.2" height="5.4" rx="0.5" fill="#fdd6d3"/>
<text transform="matrix(1 .004 0 1 449.2 129.53)" font-size="2" fill="#5b3a38" textLength="29" lengthAdjust="spacingAndGlyphs" stroke="#5b3a38" stroke-width="0.07">Найм, обучение, адаптация и оценка</text>
<text transform="matrix(1 .004 0 1 449.2 131.83)" font-size="2" fill="#5b3a38" textLength="8.53" lengthAdjust="spacingAndGlyphs" stroke="#5b3a38" stroke-width="0.07">менеджеров</text>
<rect x="448.6" y="133.7" width="33.8" height="5.4" rx="0.5" fill="#fdd6d3"/>
<text transform="matrix(1 .004 0 1 449.2 135.93)" font-size="2" fill="#5b3a38" textLength="32.6" lengthAdjust="spacingAndGlyphs" stroke="#5b3a38" stroke-width="0.07">Проведение планёрок, разборов и оценки</text>
<text transform="matrix(1 .004 0 1 449.2 138.23)" font-size="2" fill="#5b3a38" textLength="9.44" lengthAdjust="spacingAndGlyphs" stroke="#5b3a38" stroke-width="0.07">сотрудников</text>
<rect x="434.4" y="148.85" width="11.2" height="3.1" rx="0.5" fill="#fdd6d3"/>
<rect x="435" y="149.75" width="1.2" height="1.3" rx="0.3" fill="#f2453d" fill-opacity="0.9"/>
<text transform="matrix(1 .004 0 1 437.2 151.08)" font-size="2" fill="#5b3a38" textLength="7.8" lengthAdjust="spacingAndGlyphs" stroke="#5b3a38" stroke-width="0.07">Ограничения</text>
<rect x="448.6" y="140.45" width="20.4" height="3.1" rx="0.5" fill="#fdd6d3"/>
<text transform="matrix(1 .004 0 1 449.2 142.68)" font-size="2" fill="#5b3a38" textLength="19.2" lengthAdjust="spacingAndGlyphs" stroke="#5b3a38" stroke-width="0.07">Нанимать / увольнять</text>
<rect x="448.6" y="144.65" width="19.4" height="3.1" rx="0.5" fill="#fdd6d3"/>
<text transform="matrix(1 .004 0 1 449.2 146.88)" font-size="2" fill="#5b3a38" textLength="18.2" lengthAdjust="spacingAndGlyphs" stroke="#5b3a38" stroke-width="0.07">Мотивация / Штрафы</text>
<rect x="448.6" y="148.85" width="15.8" height="3.1" rx="0.5" fill="#fdd6d3"/>
<text transform="matrix(1 .004 0 1 449.2 151.08)" font-size="2" fill="#5b3a38" textLength="14.6" lengthAdjust="spacingAndGlyphs" stroke="#5b3a38" stroke-width="0.07">Система мотивации</text>
<rect x="448.6" y="153.05" width="8.8" height="3.1" rx="0.5" fill="#fdd6d3"/>
<text transform="matrix(1 .004 0 1 449.2 155.28)" font-size="2" fill="#5b3a38" textLength="7.6" lengthAdjust="spacingAndGlyphs" stroke="#5b3a38" stroke-width="0.07">Бюджеты</text>
<rect x="448.6" y="157.25" width="10.8" height="3.1" rx="0.5" fill="#fdd6d3"/>
<text transform="matrix(1 .004 0 1 449.2 159.48)" font-size="2" fill="#5b3a38" textLength="9.6" lengthAdjust="spacingAndGlyphs" stroke="#5b3a38" stroke-width="0.07">Отчётность</text>
<rect x="418.6" y="272.85" width="25.8" height="3.1" rx="0.5" fill="#fdd6d3"/>
<rect x="419.2" y="273.75" width="1.2" height="1.3" rx="0.3" fill="#2bbf7d" fill-opacity="0.9"/>
<text transform="matrix(1 .004 0 1 421.4 275.08)" font-size="2" fill="#5b3a38" textLength="22.4" lengthAdjust="spacingAndGlyphs" stroke="#5b3a38" stroke-width="0.07">Организация и планирование</text>
<rect x="448" y="234.65" width="10.4" height="3.1" rx="0.5" fill="#fdd6d3"/>
<text transform="matrix(1 .004 0 1 448.6 236.88)" font-size="2" fill="#5b3a38" textLength="9.2" lengthAdjust="spacingAndGlyphs" stroke="#5b3a38" stroke-width="0.07">Обязанности</text>
<rect x="461.6" y="167.45" width="28.8" height="3.1" rx="0.5" fill="#fdd6d3"/>
<text transform="matrix(1 .004 0 1 462.2 169.68)" font-size="2" fill="#5b3a38" textLength="27.6" lengthAdjust="spacingAndGlyphs" stroke="#5b3a38" stroke-width="0.07">Система мотивации план-факт</text>
<rect x="494" y="161.45" width="12.4" height="3.1" rx="0.5" fill="#fdd6d3"/>
<text transform="matrix(1 .004 0 1 494.6 163.68)" font-size="2" fill="#5b3a38" textLength="11.2" lengthAdjust="spacingAndGlyphs" stroke="#5b3a38" stroke-width="0.07">Фиксированная</text>
<rect x="494" y="173.65" width="11.4" height="3.1" rx="0.5" fill="#fdd6d3"/>
<text transform="matrix(1 .004 0 1 494.6 175.88)" font-size="2" fill="#5b3a38" textLength="10.2" lengthAdjust="spacingAndGlyphs" stroke="#5b3a38" stroke-width="0.07">Бонус / премия</text>
<rect x="509.6" y="173.65" width="4.8" height="3.1" rx="0.5" fill="#fdd6d3"/>
<text transform="matrix(1 .004 0 1 510.2 175.88)" font-size="2" fill="#5b3a38" textLength="3.6" lengthAdjust="spacingAndGlyphs" stroke="#5b3a38" stroke-width="0.07">Бонус</text>
<rect x="518" y="165.65" width="26.4" height="3.1" rx="0.5" fill="#fdd6d3"/>
<text transform="matrix(1 .004 0 1 518.6 167.88)" font-size="2" fill="#5b3a38" textLength="25.2" lengthAdjust="spacingAndGlyphs" stroke="#5b3a38" stroke-width="0.07">За план: стабильное планирование</text>
<rect x="518" y="169.85" width="31" height="3.1" rx="0.5" fill="#fdd6d3"/>
<text transform="matrix(1 .004 0 1 518.6 172.08)" font-size="2" fill="#5b3a38" textLength="29.8" lengthAdjust="spacingAndGlyphs" stroke="#5b3a38" stroke-width="0.07">За факт: фиксированный процент с продаж</text>
<rect x="518" y="173.9" width="33.4" height="5.4" rx="0.5" fill="#fdd6d3"/>
<text transform="matrix(1 .004 0 1 518.6 176.13)" font-size="2" fill="#5b3a38" textLength="32.2" lengthAdjust="spacingAndGlyphs" stroke="#5b3a38" stroke-width="0.07">Другие индивидуальные по исполнению KPI</text>
<text transform="matrix(1 .004 0 1 518.6 178.43)" font-size="2" fill="#5b3a38" textLength="15.69" lengthAdjust="spacingAndGlyphs" stroke="#5b3a38" stroke-width="0.07">или сложные условия</text>
<rect x="518" y="180.5" width="31" height="5.4" rx="0.5" fill="#fdd6d3"/>
<text transform="matrix(1 .004 0 1 518.6 182.73)" font-size="2" fill="#5b3a38" textLength="29.8" lengthAdjust="spacingAndGlyphs" stroke="#5b3a38" stroke-width="0.07">За командную бонус при расчёте плана</text>
<text transform="matrix(1 .004 0 1 518.6 185.03)" font-size="2" fill="#5b3a38" textLength="4.97" lengthAdjust="spacingAndGlyphs" stroke="#5b3a38" stroke-width="0.07">отдела</text>
<rect x="461.6" y="189.25" width="22.4" height="3.1" rx="0.5" fill="#fdd6d3"/>
<text transform="matrix(1 .004 0 1 462.2 191.48)" font-size="2" fill="#5b3a38" textLength="21.2" lengthAdjust="spacingAndGlyphs" stroke="#5b3a38" stroke-width="0.07">Система расчётов оплаты</text>
<rect x="486.4" y="186.85" width="4.6" height="3.1" rx="0.5" fill="#fdd6d3"/>
<text transform="matrix(1 .004 0 1 487 189.08)" font-size="2" fill="#5b3a38" textLength="3.4" lengthAdjust="spacingAndGlyphs" stroke="#5b3a38" stroke-width="0.07">ФОТ</text>
<rect x="486.4" y="191.25" width="16.6" height="3.1" rx="0.5" fill="#fdd6d3"/>
<text transform="matrix(1 .004 0 1 487 193.48)" font-size="2" fill="#5b3a38" textLength="15.4" lengthAdjust="spacingAndGlyphs" stroke="#5b3a38" stroke-width="0.07">Табель бухгалтера</text>
<rect x="461.6" y="195.45" width="26.4" height="3.1" rx="0.5" fill="#fdd6d3"/>
<text transform="matrix(1 .004 0 1 462.2 197.68)" font-size="2" fill="#5b3a38" textLength="25.2" lengthAdjust="spacingAndGlyphs" stroke="#5b3a38" stroke-width="0.07">Система распределения лидов</text>
<rect x="491.4" y="195.45" width="26.6" height="3.1" rx="0.5" fill="#fdd6d3"/>
<text transform="matrix(1 .004 0 1 492 197.68)" font-size="2" fill="#5b3a38" textLength="25.4" lengthAdjust="spacingAndGlyphs" stroke="#5b3a38" stroke-width="0.07">Контрольная закупка/Тайный покупатель</text>
<rect x="461.6" y="200.7" width="30.8" height="5.4" rx="0.5" fill="#fdd6d3"/>
<text transform="matrix(1 .004 0 1 462.2 202.93)" font-size="2" fill="#5b3a38" textLength="29.6" lengthAdjust="spacingAndGlyphs" stroke="#5b3a38" stroke-width="0.07">Контроль показателей и планирование</text>
<text transform="matrix(1 .004 0 1 462.2 205.23)" font-size="2" fill="#5b3a38" textLength="20.3" lengthAdjust="spacingAndGlyphs" stroke="#5b3a38" stroke-width="0.07">числа звонков менеджеров</text>
<rect x="495.6" y="199.65" width="8.8" height="3.1" rx="0.5" fill="#fdd6d3"/>
<text transform="matrix(1 .004 0 1 496.2 201.88)" font-size="2" fill="#5b3a38" textLength="7.6" lengthAdjust="spacingAndGlyphs" stroke="#5b3a38" stroke-width="0.07">Плановый</text>
<rect x="495.6" y="204.25" width="10.4" height="3.1" rx="0.5" fill="#fdd6d3"/>
<text transform="matrix(1 .004 0 1 496.2 206.48)" font-size="2" fill="#5b3a38" textLength="9.2" lengthAdjust="spacingAndGlyphs" stroke="#5b3a38" stroke-width="0.07">Фактический</text>
<rect x="461.6" y="208.3" width="34.4" height="5.4" rx="0.5" fill="#fdd6d3"/>
<text transform="matrix(1 .004 0 1 462.2 210.53)" font-size="2" fill="#5b3a38" textLength="33.2" lengthAdjust="spacingAndGlyphs" stroke="#5b3a38" stroke-width="0.07">Найм, обучение, адаптация сотрудников и</text>
<text transform="matrix(1 .004 0 1 462.2 212.83)" font-size="2" fill="#5b3a38" textLength="18.73" lengthAdjust="spacingAndGlyphs" stroke="#5b3a38" stroke-width="0.07">увольнение с должности</text>
<rect x="461.6" y="219.05" width="20" height="3.1" rx="0.5" fill="#fdd6d3"/>
<text transform="matrix(1 .004 0 1 462.2 221.28)" font-size="2" fill="#5b3a38" textLength="18.8" lengthAdjust="spacingAndGlyphs" stroke="#5b3a38" stroke-width="0.07">Коллективные встречи</text>
<rect x="485" y="214.85" width="11.8" height="3.1" rx="0.5" fill="#fdd6d3"/>
<text transform="matrix(1 .004 0 1 485.6 217.08)" font-size="2" fill="#5b3a38" textLength="10.6" lengthAdjust="spacingAndGlyphs" stroke="#5b3a38" stroke-width="0.07">Еженедельные</text>
<rect x="485" y="219.05" width="18.4" height="3.1" rx="0.5" fill="#fdd6d3"/>
<text transform="matrix(1 .004 0 1 485.6 221.28)" font-size="2" fill="#5b3a38" textLength="17.2" lengthAdjust="spacingAndGlyphs" stroke="#5b3a38" stroke-width="0.07">Ежедневные планёрки</text>
<rect x="485" y="223.45" width="14.4" height="3.1" rx="0.5" fill="#fdd6d3"/>
<text transform="matrix(1 .004 0 1 485.6 225.68)" font-size="2" fill="#5b3a38" textLength="13.2" lengthAdjust="spacingAndGlyphs" stroke="#5b3a38" stroke-width="0.07">Общие собрания</text>
<rect x="461.6" y="229.85" width="23.4" height="3.1" rx="0.5" fill="#fdd6d3"/>
<text transform="matrix(1 .004 0 1 462.2 232.08)" font-size="2" fill="#5b3a38" textLength="22.2" lengthAdjust="spacingAndGlyphs" stroke="#5b3a38" stroke-width="0.07">Контроль рабочего времени</text>
<rect x="487.6" y="227.85" width="14.4" height="3.1" rx="0.5" fill="#fdd6d3"/>
<text transform="matrix(1 .004 0 1 488.2 230.08)" font-size="2" fill="#5b3a38" textLength="13.2" lengthAdjust="spacingAndGlyphs" stroke="#5b3a38" stroke-width="0.07">Скриншоты экрана</text>
<rect x="487.6" y="232.05" width="25" height="3.1" rx="0.5" fill="#fdd6d3"/>
<text transform="matrix(1 .004 0 1 488.2 234.28)" font-size="2" fill="#5b3a38" textLength="23.8" lengthAdjust="spacingAndGlyphs" stroke="#5b3a38" stroke-width="0.07">Анализ посещения веб-страниц</text>
<rect x="461.6" y="270.6" width="34" height="5.4" rx="0.5" fill="#fdd6d3"/>
<text transform="matrix(1 .004 0 1 462.2 272.83)" font-size="2" fill="#5b3a38" textLength="32.8" lengthAdjust="spacingAndGlyphs" stroke="#5b3a38" stroke-width="0.07">Проведение итоговых планёрок и подсчёт</text>
<text transform="matrix(1 .004 0 1 462.2 275.13)" font-size="2" fill="#5b3a38" textLength="5.18" lengthAdjust="spacingAndGlyphs" stroke="#5b3a38" stroke-width="0.07">метрик</text>
<rect x="499.4" y="247.45" width="6.2" height="3.1" rx="0.5" fill="#fdd6d3"/>
<text transform="matrix(1 .004 0 1 500 249.68)" font-size="2" fill="#5b3a38" textLength="5" lengthAdjust="spacingAndGlyphs" stroke="#5b3a38" stroke-width="0.07">Задачи</text>
<rect x="509.4" y="236.25" width="30" height="3.1" rx="0.5" fill="#fdd6d3"/>
<text transform="matrix(1 .004 0 1 510 238.48)" font-size="2" fill="#5b3a38" textLength="28.8" lengthAdjust="spacingAndGlyphs" stroke="#5b3a38" stroke-width="0.07">Разбить на удобные задачи, дедлайн</text>
<rect x="509.4" y="245.05" width="26.6" height="3.1" rx="0.5" fill="#fdd6d3"/>
<text transform="matrix(1 .004 0 1 510 247.28)" font-size="2" fill="#5b3a38" textLength="25.4" lengthAdjust="spacingAndGlyphs" stroke="#5b3a38" stroke-width="0.07">Подвести итог предыдущей дня</text>
<rect x="539.4" y="245.05" width="25" height="3.1" rx="0.5" fill="#fdd6d3"/>
<text transform="matrix(1 .004 0 1 540 247.28)" font-size="2" fill="#5b3a38" textLength="23.8" lengthAdjust="spacingAndGlyphs" stroke="#5b3a38" stroke-width="0.07">Показатель: отчёт по клиентам</text>
<rect x="568" y="242.85" width="16" height="3.1" rx="0.5" fill="#fdd6d3"/>
<text transform="matrix(1 .004 0 1 568.6 245.08)" font-size="2" fill="#5b3a38" textLength="14.8" lengthAdjust="spacingAndGlyphs" stroke="#5b3a38" stroke-width="0.07">Успех по действиям</text>
<rect x="568" y="247.25" width="9" height="3.1" rx="0.5" fill="#fdd6d3"/>
<text transform="matrix(1 .004 0 1 568.6 249.48)" font-size="2" fill="#5b3a38" textLength="7.8" lengthAdjust="spacingAndGlyphs" stroke="#5b3a38" stroke-width="0.07">Неуспех</text>
<rect x="509.4" y="253.65" width="25.6" height="3.1" rx="0.5" fill="#fdd6d3"/>
<text transform="matrix(1 .004 0 1 510 255.88)" font-size="2" fill="#5b3a38" textLength="24.4" lengthAdjust="spacingAndGlyphs" stroke="#5b3a38" stroke-width="0.07">Поставить задачи следующего</text>
<rect x="509.4" y="258.05" width="22.6" height="3.1" rx="0.5" fill="#fdd6d3"/>
<text transform="matrix(1 .004 0 1 510 260.28)" font-size="2" fill="#5b3a38" textLength="21.4" lengthAdjust="spacingAndGlyphs" stroke="#5b3a38" stroke-width="0.07">Обсуждение сложностей дня</text>
<rect x="499.4" y="276.45" width="11.2" height="3.1" rx="0.5" fill="#fdd6d3"/>
<text transform="matrix(1 .004 0 1 500 278.68)" font-size="2" fill="#5b3a38" textLength="10" lengthAdjust="spacingAndGlyphs" stroke="#5b3a38" stroke-width="0.07">Показатели</text>
<rect x="514.4" y="262.1" width="34" height="5.4" rx="0.5" fill="#fdd6d3"/>
<text transform="matrix(1 .004 0 1 515 264.33)" font-size="2" fill="#5b3a38" textLength="32.8" lengthAdjust="spacingAndGlyphs" stroke="#5b3a38" stroke-width="0.07">Всего вход. лидов, учёт по переходам, по</text>
<text transform="matrix(1 .004 0 1 515 266.63)" font-size="2" fill="#5b3a38" textLength="15.58" lengthAdjust="spacingAndGlyphs" stroke="#5b3a38" stroke-width="0.07">заявкам и контактам</text>
<rect x="514.4" y="268.5" width="33.2" height="5.4" rx="0.5" fill="#fdd6d3"/>
<text transform="matrix(1 .004 0 1 515 270.73)" font-size="2" fill="#5b3a38" textLength="32" lengthAdjust="spacingAndGlyphs" stroke="#5b3a38" stroke-width="0.07">Звонки: менее минуты, свыше 2 минут,</text>
<text transform="matrix(1 .004 0 1 515 273.03)" font-size="2" fill="#5b3a38" textLength="14.22" lengthAdjust="spacingAndGlyphs" stroke="#5b3a38" stroke-width="0.07">общее количество</text>
<rect x="514.4" y="274.9" width="31.2" height="5.4" rx="0.5" fill="#fdd6d3"/>
<text transform="matrix(1 .004 0 1 515 277.13)" font-size="2" fill="#5b3a38" textLength="30" lengthAdjust="spacingAndGlyphs" stroke="#5b3a38" stroke-width="0.07">Объём КП, коммерческих показателей,</text>
<text transform="matrix(1 .004 0 1 515 279.43)" font-size="2" fill="#5b3a38" textLength="12" lengthAdjust="spacingAndGlyphs" stroke="#5b3a38" stroke-width="0.07">общая сумма КП</text>
<rect x="514.4" y="281.45" width="31" height="3.1" rx="0.5" fill="#fdd6d3"/>
<text transform="matrix(1 .004 0 1 515 283.68)" font-size="2" fill="#5b3a38" textLength="29.8" lengthAdjust="spacingAndGlyphs" stroke="#5b3a38" stroke-width="0.07">Проверка: заполненность, постановка</text>
<rect x="514.4" y="285.85" width="15.6" height="3.1" rx="0.5" fill="#fdd6d3"/>
<text transform="matrix(1 .004 0 1 515 288.08)" font-size="2" fill="#5b3a38" textLength="14.4" lengthAdjust="spacingAndGlyphs" stroke="#5b3a38" stroke-width="0.07">Доля заключенных</text>
<rect x="514.4" y="289.7" width="31.6" height="5.4" rx="0.5" fill="#fdd6d3"/>
<text transform="matrix(1 .004 0 1 515 291.93)" font-size="2" fill="#5b3a38" textLength="30.4" lengthAdjust="spacingAndGlyphs" stroke="#5b3a38" stroke-width="0.07">Среднее чек. сумма нового клиента в</text>
<text transform="matrix(1 .004 0 1 515 294.23)" font-size="2" fill="#5b3a38" textLength="4.34" lengthAdjust="spacingAndGlyphs" stroke="#5b3a38" stroke-width="0.07">сумму</text>
<rect x="499.4" y="296.45" width="9.6" height="3.1" rx="0.5" fill="#fdd6d3"/>
<text transform="matrix(1 .004 0 1 500 298.68)" font-size="2" fill="#5b3a38" textLength="8.4" lengthAdjust="spacingAndGlyphs" stroke="#5b3a38" stroke-width="0.07">Контроль</text>
<rect x="461.6" y="300.3" width="31.4" height="5.4" rx="0.5" fill="#fdd6d3"/>
<text transform="matrix(1 .004 0 1 462.2 302.53)" font-size="2" fill="#5b3a38" textLength="30.2" lengthAdjust="spacingAndGlyphs" stroke="#5b3a38" stroke-width="0.07">Формирование отчётов для руководства</text>
<text transform="matrix(1 .004 0 1 462.2 304.83)" font-size="2" fill="#5b3a38" textLength="30.2" lengthAdjust="spacingAndGlyphs" stroke="#5b3a38" stroke-width="0.07">компании по численности и результатам</text>
<rect x="448" y="311.25" width="11" height="3.1" rx="0.5" fill="#fdd6d3"/>
<rect x="448.6" y="312.15" width="1.2" height="1.3" rx="0.3" fill="#f2453d" fill-opacity="0.9"/>
<text transform="matrix(1 .004 0 1 450.8 313.48)" font-size="2" fill="#5b3a38" textLength="7.6" lengthAdjust="spacingAndGlyphs" stroke="#5b3a38" stroke-width="0.07">Ограничения</text>
<rect x="462.4" y="306.65" width="22" height="3.1" rx="0.5" fill="#fdd6d3"/>
<text transform="matrix(1 .004 0 1 463 308.88)" font-size="2" fill="#5b3a38" textLength="20.8" lengthAdjust="spacingAndGlyphs" stroke="#5b3a38" stroke-width="0.07">Увольнение характеристики</text>
<rect x="488" y="306.65" width="10" height="3.1" rx="0.5" fill="#fdd6d3"/>
<text transform="matrix(1 .004 0 1 488.6 308.88)" font-size="2" fill="#5b3a38" textLength="8.8" lengthAdjust="spacingAndGlyphs" stroke="#5b3a38" stroke-width="0.07">Увольнение</text>
<rect x="501" y="306.65" width="13.4" height="3.1" rx="0.5" fill="#fdd6d3"/>
<text transform="matrix(1 .004 0 1 501.6 308.88)" font-size="2" fill="#5b3a38" textLength="12.2" lengthAdjust="spacingAndGlyphs" stroke="#5b3a38" stroke-width="0.07">Штатное расписание</text>
<rect x="462.4" y="311.25" width="7.6" height="3.1" rx="0.5" fill="#fdd6d3"/>
<text transform="matrix(1 .004 0 1 463 313.48)" font-size="2" fill="#5b3a38" textLength="6.4" lengthAdjust="spacingAndGlyphs" stroke="#5b3a38" stroke-width="0.07">Бюджеты</text>
<rect x="462.4" y="315.65" width="18.2" height="3.1" rx="0.5" fill="#fdd6d3"/>
<text transform="matrix(1 .004 0 1 463 317.88)" font-size="2" fill="#5b3a38" textLength="17" lengthAdjust="spacingAndGlyphs" stroke="#5b3a38" stroke-width="0.07">Изменение мотивации</text>
<rect x="418.6" y="352.85" width="15.4" height="3.1" rx="0.5" fill="#fdd6d3"/>
<rect x="419.2" y="353.75" width="1.2" height="1.3" rx="0.3" fill="#5a78f0" fill-opacity="0.9"/>
<text transform="matrix(1 .004 0 1 421.4 355.08)" font-size="2" fill="#5b3a38" textLength="12" lengthAdjust="spacingAndGlyphs" stroke="#5b3a38" stroke-width="0.07">Операционка</text>
<rect x="438" y="339.85" width="10.4" height="3.1" rx="0.5" fill="#fdd6d3"/>
<text transform="matrix(1 .004 0 1 438.6 342.08)" font-size="2" fill="#5b3a38" textLength="9.2" lengthAdjust="spacingAndGlyphs" stroke="#5b3a38" stroke-width="0.07">Обязанности</text>
<rect x="451.6" y="319.7" width="31.2" height="5.4" rx="0.5" fill="#fdd6d3"/>
<text transform="matrix(1 .004 0 1 452.2 321.93)" font-size="2" fill="#5b3a38" textLength="30" lengthAdjust="spacingAndGlyphs" stroke="#5b3a38" stroke-width="0.07">Планирование по поручению выполнения</text>
<text transform="matrix(1 .004 0 1 452.2 324.23)" font-size="2" fill="#5b3a38" textLength="15" lengthAdjust="spacingAndGlyphs" stroke="#5b3a38" stroke-width="0.07">плана руководителя</text>
<rect x="486" y="320.85" width="12.4" height="3.1" rx="0.5" fill="#fdd6d3"/>
<text transform="matrix(1 .004 0 1 486.6 323.08)" font-size="2" fill="#5b3a38" textLength="11.2" lengthAdjust="spacingAndGlyphs" stroke="#5b3a38" stroke-width="0.07">Декомпозиция</text>
<rect x="451.6" y="325.9" width="34.4" height="5.4" rx="0.5" fill="#fdd6d3"/>
<text transform="matrix(1 .004 0 1 452.2 328.13)" font-size="2" fill="#5b3a38" textLength="33.2" lengthAdjust="spacingAndGlyphs" stroke="#5b3a38" stroke-width="0.07">Планирование выполнения запланированной</text>
<text transform="matrix(1 .004 0 1 452.2 330.43)" font-size="2" fill="#5b3a38" textLength="6.81" lengthAdjust="spacingAndGlyphs" stroke="#5b3a38" stroke-width="0.07">личности</text>
<rect x="451.6" y="332.1" width="27.8" height="5.4" rx="0.5" fill="#fdd6d3"/>
<text transform="matrix(1 .004 0 1 452.2 334.33)" font-size="2" fill="#5b3a38" textLength="26.6" lengthAdjust="spacingAndGlyphs" stroke="#5b3a38" stroke-width="0.07">Контроль показателей входящих</text>
<text transform="matrix(1 .004 0 1 452.2 336.63)" font-size="2" fill="#5b3a38" textLength="21.1" lengthAdjust="spacingAndGlyphs" stroke="#5b3a38" stroke-width="0.07">(пост-факт) и исходящих</text>
<rect x="451.6" y="338.5" width="33.4" height="5.4" rx="0.5" fill="#fdd6d3"/>
<text transform="matrix(1 .004 0 1 452.2 340.73)" font-size="2" fill="#5b3a38" textLength="32.2" lengthAdjust="spacingAndGlyphs" stroke="#5b3a38" stroke-width="0.07">Найм, обучение, оперативное увольнение</text>
<text transform="matrix(1 .004 0 1 452.2 343.03)" font-size="2" fill="#5b3a38" textLength="7.63" lengthAdjust="spacingAndGlyphs" stroke="#5b3a38" stroke-width="0.07">при срыве</text>
<rect x="451.6" y="344.7" width="27.4" height="5.4" rx="0.5" fill="#fdd6d3"/>
<text transform="matrix(1 .004 0 1 452.2 346.93)" font-size="2" fill="#5b3a38" textLength="26.2" lengthAdjust="spacingAndGlyphs" stroke="#5b3a38" stroke-width="0.07">Проведение ключевых планёрок /</text>
<text transform="matrix(1 .004 0 1 452.2 349.23)" font-size="2" fill="#5b3a38" textLength="16.59" lengthAdjust="spacingAndGlyphs" stroke="#5b3a38" stroke-width="0.07">личностных митингов</text>
<rect x="451.6" y="351.45" width="22.4" height="3.1" rx="0.5" fill="#fdd6d3"/>
<text transform="matrix(1 .004 0 1 452.2 353.68)" font-size="2" fill="#5b3a38" textLength="21.2" lengthAdjust="spacingAndGlyphs" stroke="#5b3a38" stroke-width="0.07">Разработка бизнес-процесса</text>
<rect x="451.6" y="355.65" width="18.4" height="3.1" rx="0.5" fill="#fdd6d3"/>
<text transform="matrix(1 .004 0 1 452.2 357.88)" font-size="2" fill="#5b3a38" textLength="17.2" lengthAdjust="spacingAndGlyphs" stroke="#5b3a38" stroke-width="0.07">Работа с возражениями</text>
<rect x="451.6" y="359.3" width="30" height="5.4" rx="0.5" fill="#fdd6d3"/>
<text transform="matrix(1 .004 0 1 452.2 361.53)" font-size="2" fill="#5b3a38" textLength="28.8" lengthAdjust="spacingAndGlyphs" stroke="#5b3a38" stroke-width="0.07">Формирование отчётов управления</text>
<text transform="matrix(1 .004 0 1 452.2 363.83)" font-size="2" fill="#5b3a38" textLength="18.58" lengthAdjust="spacingAndGlyphs" stroke="#5b3a38" stroke-width="0.07">публичности компании</text>
<rect x="438" y="366.25" width="11" height="3.1" rx="0.5" fill="#fdd6d3"/>
<text transform="matrix(1 .004 0 1 438.6 368.48)" font-size="2" fill="#5b3a38" textLength="9.8" lengthAdjust="spacingAndGlyphs" stroke="#5b3a38" stroke-width="0.07">Ограничения</text>
<rect x="452.6" y="366.25" width="15.4" height="3.1" rx="0.5" fill="#fdd6d3"/>
<text transform="matrix(1 .004 0 1 453.2 368.48)" font-size="2" fill="#5b3a38" textLength="14.2" lengthAdjust="spacingAndGlyphs" stroke="#5b3a38" stroke-width="0.07">Ограничений нет</text>
<rect x="377.9" y="186.1" width="37" height="5" rx="0.9" fill="#f23b31"/>
<rect x="379.9" y="187.75" width="1.9" height="1.9" rx="0.7" fill="#2bbf7d" stroke="#fff" stroke-opacity="0.35" stroke-width="0.3"/>
<rect x="381.8" y="187.75" width="1.9" height="1.9" rx="0.7" fill="#5a78f0" stroke="#fff" stroke-opacity="0.35" stroke-width="0.3"/>
<text transform="matrix(1 .004 0 1 385 189.95)" font-size="2.8" fill="#fff" font-weight="bold" textLength="27.9" lengthAdjust="spacingAndGlyphs" stroke="#fff" stroke-width="0.1">Организация стартапа</text>
<rect x="532" y="74" width="15.4" height="8" rx="0.5" fill="#fff" stroke="#4d5068" stroke-width="0.4"/>
<text transform="matrix(1 .004 0 1 534.3 76.4)" font-size="1.7" fill="#6d7088" textLength="10.8" lengthAdjust="spacingAndGlyphs" stroke="#6d7088" stroke-width="0.07">Ситуация:</text>
<text transform="matrix(1 .004 0 1 534.3 78.6)" font-size="1.7" fill="#6d7088" textLength="10.8" lengthAdjust="spacingAndGlyphs" stroke="#6d7088" stroke-width="0.07">стартап в</text>
<text transform="matrix(1 .004 0 1 534.3 80.8)" font-size="1.7" fill="#6d7088" textLength="10.8" lengthAdjust="spacingAndGlyphs" stroke="#6d7088" stroke-width="0.07">должности</text>
<rect x="487.6" y="128.6" width="11.8" height="3.4" rx="0.5" fill="#fff" stroke="#4d5068" stroke-width="0.4"/>
<text transform="matrix(1 .004 0 1 489 130.9)" font-size="1.7" fill="#6d7088" textLength="9" lengthAdjust="spacingAndGlyphs" stroke="#6d7088" stroke-width="0.07">Результат</text>
<rect x="504.4" y="136.6" width="15.2" height="8" rx="0.5" fill="#fff" stroke="#4d5068" stroke-width="0.4"/>
<text transform="matrix(1 .004 0 1 506.7 139)" font-size="1.7" fill="#6d7088" textLength="10.6" lengthAdjust="spacingAndGlyphs" stroke="#6d7088" stroke-width="0.07">Ситуация:</text>
<text transform="matrix(1 .004 0 1 506.7 141.2)" font-size="1.7" fill="#6d7088" textLength="10.6" lengthAdjust="spacingAndGlyphs" stroke="#6d7088" stroke-width="0.07">стартап в</text>
<text transform="matrix(1 .004 0 1 506.7 143.4)" font-size="1.7" fill="#6d7088" textLength="10.6" lengthAdjust="spacingAndGlyphs" stroke="#6d7088" stroke-width="0.07">должности</text>
<rect x="556.6" y="173.6" width="18.8" height="4" rx="0.5" fill="#fff" stroke="#4d5068" stroke-width="0.4"/>
<text transform="matrix(1 .004 0 1 558 176.2)" font-size="1.7" fill="#6d7088" textLength="16" lengthAdjust="spacingAndGlyphs" stroke="#6d7088" stroke-width="0.07">Например: 5 / 5 / 5</text>
<rect x="508.2" y="217.6" width="14.2" height="6" rx="0.5" fill="#fff" stroke="#4d5068" stroke-width="0.4"/>
<text transform="matrix(1 .004 0 1 509.6 220.1)" font-size="1.7" fill="#6d7088" textLength="11.4" lengthAdjust="spacingAndGlyphs" stroke="#6d7088" stroke-width="0.07">Еженедельные</text>
<text transform="matrix(1 .004 0 1 509.6 222.3)" font-size="1.7" fill="#6d7088" textLength="11.4" lengthAdjust="spacingAndGlyphs" stroke="#6d7088" stroke-width="0.07">долгосрочные</text>
<rect x="589" y="245" width="9.4" height="3.6" rx="0.5" fill="#fff" stroke="#4d5068" stroke-width="0.4"/>
<text transform="matrix(1 .004 0 1 590.4 247.4)" font-size="1.7" fill="#6d7088" textLength="6.6" lengthAdjust="spacingAndGlyphs" stroke="#6d7088" stroke-width="0.07">Пример</text>
<rect x="601.4" y="240.45" width="11.2" height="3.1" rx="0.5" fill="#fdd6d3"/>
<text transform="matrix(1 .004 0 1 602 242.68)" font-size="2" fill="#5b3a38" textLength="10" lengthAdjust="spacingAndGlyphs" stroke="#5b3a38" stroke-width="0.07">Был настрой</text>
<rect x="601.4" y="245.25" width="13.6" height="3.1" rx="0.5" fill="#fdd6d3"/>
<text transform="matrix(1 .004 0 1 602 247.48)" font-size="2" fill="#5b3a38" textLength="12.4" lengthAdjust="spacingAndGlyphs" stroke="#5b3a38" stroke-width="0.07">Был не настрой</text>
<rect x="601.4" y="249.65" width="18.2" height="3.1" rx="0.5" fill="#fdd6d3"/>
<text transform="matrix(1 .004 0 1 602 251.88)" font-size="2" fill="#5b3a38" textLength="17" lengthAdjust="spacingAndGlyphs" stroke="#5b3a38" stroke-width="0.07">Не совпадали данные</text>
<rect x="624.4" y="263.8" width="12.6" height="3.8" rx="0.5" fill="#fff" stroke="#4d5068" stroke-width="0.4"/>
<text transform="matrix(1 .004 0 1 625.8 266.3)" font-size="1.7" fill="#6d7088" textLength="9.8" lengthAdjust="spacingAndGlyphs" stroke="#6d7088" stroke-width="0.07">Планёрка</text>
<rect x="641.4" y="231.6" width="10" height="4" rx="0.5" fill="#fff" stroke="#4d5068" stroke-width="0.4"/>
<text transform="matrix(1 .004 0 1 642.8 234.2)" font-size="1.7" fill="#6d7088" textLength="7.2" lengthAdjust="spacingAndGlyphs" stroke="#6d7088" stroke-width="0.07">Задачи</text>
<rect x="654.4" y="229.85" width="6.2" height="3.1" rx="0.5" fill="#fdd6d3"/>
<text transform="matrix(1 .004 0 1 655 232.08)" font-size="2" fill="#5b3a38" textLength="5" lengthAdjust="spacingAndGlyphs" stroke="#5b3a38" stroke-width="0.07">Найм</text>
<rect x="654.4" y="234.25" width="5.2" height="3.1" rx="0.5" fill="#fdd6d3"/>
<text transform="matrix(1 .004 0 1 655 236.48)" font-size="2" fill="#5b3a38" textLength="4" lengthAdjust="spacingAndGlyphs" stroke="#5b3a38" stroke-width="0.07">Отчёт</text>
<rect x="666" y="238.2" width="14.4" height="4" rx="0.5" fill="#fff" stroke="#4d5068" stroke-width="0.4"/>
<text transform="matrix(1 .004 0 1 667.4 240.8)" font-size="1.7" fill="#6d7088" textLength="11.6" lengthAdjust="spacingAndGlyphs" stroke="#6d7088" stroke-width="0.07">Обязанности</text>
<rect x="683.4" y="216.65" width="10.2" height="3.1" rx="0.5" fill="#fdd6d3"/>
<text transform="matrix(1 .004 0 1 684 218.88)" font-size="2" fill="#5b3a38" textLength="9" lengthAdjust="spacingAndGlyphs" stroke="#5b3a38" stroke-width="0.07">KPI оценки</text>
<rect x="683.4" y="221.65" width="22.6" height="3.1" rx="0.5" fill="#fdd6d3"/>
<text transform="matrix(1 .004 0 1 684 223.88)" font-size="2" fill="#5b3a38" textLength="21.4" lengthAdjust="spacingAndGlyphs" stroke="#5b3a38" stroke-width="0.07">В выполнении плана продаж</text>
<rect x="683.4" y="238.65" width="9.6" height="3.1" rx="0.5" fill="#fdd6d3"/>
<text transform="matrix(1 .004 0 1 684 240.88)" font-size="2" fill="#5b3a38" textLength="8.4" lengthAdjust="spacingAndGlyphs" stroke="#5b3a38" stroke-width="0.07">Показатели</text>
<rect x="696.6" y="225.65" width="12" height="3.1" rx="0.5" fill="#fdd6d3"/>
<text transform="matrix(1 .004 0 1 697.2 227.88)" font-size="2" fill="#5b3a38" textLength="10.8" lengthAdjust="spacingAndGlyphs" stroke="#5b3a38" stroke-width="0.07">Кол-во звонков</text>
<rect x="696.6" y="229.85" width="19" height="3.1" rx="0.5" fill="#fdd6d3"/>
<text transform="matrix(1 .004 0 1 697.2 232.08)" font-size="2" fill="#5b3a38" textLength="17.8" lengthAdjust="spacingAndGlyphs" stroke="#5b3a38" stroke-width="0.07">Кол-во коммуникаций</text>
<rect x="696.6" y="234.55" width="15" height="3.1" rx="0.5" fill="#fdd6d3"/>
<text transform="matrix(1 .004 0 1 697.2 236.78)" font-size="2" fill="#5b3a38" textLength="13.8" lengthAdjust="spacingAndGlyphs" stroke="#5b3a38" stroke-width="0.07">Кол-во встречный</text>
<rect x="696.6" y="238.65" width="7.4" height="3.1" rx="0.5" fill="#fdd6d3"/>
<text transform="matrix(1 .004 0 1 697.2 240.88)" font-size="2" fill="#5b3a38" textLength="6.2" lengthAdjust="spacingAndGlyphs" stroke="#5b3a38" stroke-width="0.07">Средний чек</text>
<rect x="696.6" y="242.65" width="13.4" height="3.1" rx="0.5" fill="#fdd6d3"/>
<text transform="matrix(1 .004 0 1 697.2 244.88)" font-size="2" fill="#5b3a38" textLength="12.2" lengthAdjust="spacingAndGlyphs" stroke="#5b3a38" stroke-width="0.07">Сумма закрытия</text>
<rect x="696.6" y="247.45" width="15.8" height="3.1" rx="0.5" fill="#fdd6d3"/>
<text transform="matrix(1 .004 0 1 697.2 249.68)" font-size="2" fill="#5b3a38" textLength="14.6" lengthAdjust="spacingAndGlyphs" stroke="#5b3a38" stroke-width="0.07">Конверсия воронки</text>
<rect x="696.6" y="251.45" width="23.4" height="3.1" rx="0.5" fill="#fdd6d3"/>
<text transform="matrix(1 .004 0 1 697.2 253.68)" font-size="2" fill="#5b3a38" textLength="22.2" lengthAdjust="spacingAndGlyphs" stroke="#5b3a38" stroke-width="0.07">Общее выполнение в целом мин</text>
<rect x="683.4" y="255.85" width="8" height="3.1" rx="0.5" fill="#fdd6d3"/>
<text transform="matrix(1 .004 0 1 684 258.08)" font-size="2" fill="#5b3a38" textLength="6.8" lengthAdjust="spacingAndGlyphs" stroke="#5b3a38" stroke-width="0.07">Действие</text>
<rect x="503.4" y="340.4" width="15" height="8.2" rx="0.5" fill="#fff" stroke="#4d5068" stroke-width="0.4"/>
<text transform="matrix(1 .004 0 1 505.7 342.9)" font-size="1.7" fill="#6d7088" textLength="7.2" lengthAdjust="spacingAndGlyphs" stroke="#6d7088" stroke-width="0.07">Ситуация:</text>
<text transform="matrix(1 .004 0 1 505.7 345.1)" font-size="1.7" fill="#6d7088" textLength="8" lengthAdjust="spacingAndGlyphs" stroke="#6d7088" stroke-width="0.07">управление</text>
<text transform="matrix(1 .004 0 1 505.7 347.3)" font-size="1.7" fill="#6d7088" textLength="10.4" lengthAdjust="spacingAndGlyphs" stroke="#6d7088" stroke-width="0.07">эффективность</text>
<rect x="521.6" y="340.65" width="13" height="3.1" rx="0.5" fill="#fdd6d3"/>
<text transform="matrix(1 .004 0 1 522.2 342.88)" font-size="2" fill="#5b3a38" textLength="11.8" lengthAdjust="spacingAndGlyphs" stroke="#5b3a38" stroke-width="0.07">MVP, реализация</text>
<rect x="521.6" y="345.25" width="27.4" height="3.1" rx="0.5" fill="#fdd6d3"/>
<text transform="matrix(1 .004 0 1 522.2 347.48)" font-size="2" fill="#5b3a38" textLength="26.2" lengthAdjust="spacingAndGlyphs" stroke="#5b3a38" stroke-width="0.07">В выполнении плана показателей</text>
<rect x="419.4" y="373.85" width="6.6" height="3.1" rx="0.5" fill="#fde5ce"/>
<text transform="matrix(1 .004 0 1 420 376.08)" font-size="2" fill="#705640" textLength="5.4" lengthAdjust="spacingAndGlyphs" stroke="#705640" stroke-width="0.07">Сканер</text>
<rect x="419.4" y="377.65" width="21.2" height="3.1" rx="0.5" fill="#fde5ce"/>
<text transform="matrix(1 .004 0 1 420 379.88)" font-size="2" fill="#705640" textLength="20" lengthAdjust="spacingAndGlyphs" stroke="#705640" stroke-width="0.07">Заполнение листа-анкеты</text>
<rect x="419.4" y="381.5" width="30" height="5.4" rx="0.5" fill="#fde5ce"/>
<text transform="matrix(1 .004 0 1 420 383.73)" font-size="2" fill="#705640" textLength="28.8" lengthAdjust="spacingAndGlyphs" stroke="#705640" stroke-width="0.07">Собеседование у собст. по основным</text>
<text transform="matrix(1 .004 0 1 420 386.03)" font-size="2" fill="#705640" textLength="5.08" lengthAdjust="spacingAndGlyphs" stroke="#705640" stroke-width="0.07">этапам</text>
<rect x="419.4" y="387.85" width="8.6" height="3.1" rx="0.5" fill="#fde5ce"/>
<text transform="matrix(1 .004 0 1 420 390.08)" font-size="2" fill="#705640" textLength="7.4" lengthAdjust="spacingAndGlyphs" stroke="#705640" stroke-width="0.07">Критерии</text>
<rect x="419.4" y="409.25" width="26.2" height="3.1" rx="0.5" fill="#fde5ce"/>
<text transform="matrix(1 .004 0 1 420 411.48)" font-size="2" fill="#705640" textLength="25" lengthAdjust="spacingAndGlyphs" stroke="#705640" stroke-width="0.07">Этапы необходимого прохода</text>
<rect x="449" y="391.85" width="18.6" height="3.1" rx="0.5" fill="#fde5ce"/>
<text transform="matrix(1 .004 0 1 449.6 394.08)" font-size="2" fill="#705640" textLength="17.4" lengthAdjust="spacingAndGlyphs" stroke="#705640" stroke-width="0.07">Структура / Компетенц</text>
<rect x="449" y="396.05" width="4" height="3.1" rx="0.5" fill="#fde5ce"/>
<text transform="matrix(1 .004 0 1 449.6 398.28)" font-size="2" fill="#705640" textLength="2.8" lengthAdjust="spacingAndGlyphs" stroke="#705640" stroke-width="0.07">KPI</text>
<rect x="449" y="400.45" width="4.6" height="3.1" rx="0.5" fill="#fde5ce"/>
<text transform="matrix(1 .004 0 1 449.6 402.68)" font-size="2" fill="#705640" textLength="3.4" lengthAdjust="spacingAndGlyphs" stroke="#705640" stroke-width="0.07">ФОТ</text>
<rect x="449" y="404.65" width="13.6" height="3.1" rx="0.5" fill="#fde5ce"/>
<text transform="matrix(1 .004 0 1 449.6 406.88)" font-size="2" fill="#705640" textLength="12.4" lengthAdjust="spacingAndGlyphs" stroke="#705640" stroke-width="0.07">Опережать рынок</text>
<rect x="449" y="409.25" width="15.4" height="3.1" rx="0.5" fill="#fde5ce"/>
<text transform="matrix(1 .004 0 1 449.6 411.48)" font-size="2" fill="#705640" textLength="14.2" lengthAdjust="spacingAndGlyphs" stroke="#705640" stroke-width="0.07">Показатели отдела</text>
<rect x="449" y="413.45" width="13" height="3.1" rx="0.5" fill="#fde5ce"/>
<text transform="matrix(1 .004 0 1 449.6 415.68)" font-size="2" fill="#705640" textLength="11.8" lengthAdjust="spacingAndGlyphs" stroke="#705640" stroke-width="0.07">Листы-анкеты</text>
<rect x="449" y="417.65" width="6" height="3.1" rx="0.5" fill="#fde5ce"/>
<text transform="matrix(1 .004 0 1 449.6 419.88)" font-size="2" fill="#705640" textLength="4.8" lengthAdjust="spacingAndGlyphs" stroke="#705640" stroke-width="0.07">Звонки</text>
<rect x="449" y="421.85" width="6.6" height="3.1" rx="0.5" fill="#fde5ce"/>
<text transform="matrix(1 .004 0 1 449.6 424.08)" font-size="2" fill="#705640" textLength="5.4" lengthAdjust="spacingAndGlyphs" stroke="#705640" stroke-width="0.07">Оценка</text>
<rect x="449" y="426.45" width="19" height="3.1" rx="0.5" fill="#fde5ce"/>
<text transform="matrix(1 .004 0 1 449.6 428.68)" font-size="2" fill="#705640" textLength="17.8" lengthAdjust="spacingAndGlyphs" stroke="#705640" stroke-width="0.07">Собрание комитета</text>
<rect x="419.4" y="430.45" width="7.6" height="3.1" rx="0.5" fill="#fde5ce"/>
<text transform="matrix(1 .004 0 1 420 432.68)" font-size="2" fill="#705640" textLength="6.4" lengthAdjust="spacingAndGlyphs" stroke="#705640" stroke-width="0.07">Вывод</text>
<rect x="431" y="430.45" width="6.6" height="3.1" rx="0.5" fill="#fde5ce"/>
<text transform="matrix(1 .004 0 1 431.6 432.68)" font-size="2" fill="#705640" textLength="5.4" lengthAdjust="spacingAndGlyphs" stroke="#705640" stroke-width="0.07">Да / Нет</text>
<rect x="377.8" y="401" width="38.3" height="5" rx="0.9" fill="#f6a24f"/>
<rect x="379.8" y="402.65" width="1.9" height="1.9" rx="0.7" fill="#f06a8a" stroke="#fff" stroke-opacity="0.35" stroke-width="0.3"/>
<text transform="matrix(1 .004 0 1 383 404.85)" font-size="2.8" fill="#2b1d08" font-weight="bold" textLength="31.1" lengthAdjust="spacingAndGlyphs" stroke="#2b1d08" stroke-width="0.1">Чек-лист нового открытия</text>
<rect x="411" y="437.85" width="11.6" height="3.1" rx="0.5" fill="#fdf3c2"/>
<text transform="matrix(1 .004 0 1 411.6 440.08)" font-size="2" fill="#6e6430" textLength="10.4" lengthAdjust="spacingAndGlyphs" stroke="#6e6430" stroke-width="0.07">Счёт / договор</text>
<rect x="411" y="441.85" width="15.4" height="3.1" rx="0.5" fill="#fdf3c2"/>
<text transform="matrix(1 .004 0 1 411.6 444.08)" font-size="2" fill="#6e6430" textLength="14.2" lengthAdjust="spacingAndGlyphs" stroke="#6e6430" stroke-width="0.07">Дополнительные</text>
<rect x="377.8" y="438.9" width="30.3" height="5" rx="0.9" fill="#f0d22e"/>
<rect x="379.8" y="440.55" width="1.9" height="1.9" rx="0.7" fill="#f7a54a" stroke="#fff" stroke-opacity="0.35" stroke-width="0.3"/>
<text transform="matrix(1 .004 0 1 383 442.75)" font-size="2.8" fill="#2b1d08" font-weight="bold" textLength="23.1" lengthAdjust="spacingAndGlyphs" stroke="#2b1d08" stroke-width="0.1">Обучение сотрудников</text>
<rect x="431.4" y="439.4" width="11" height="4" rx="0.5" fill="#fff" stroke="#4d5068" stroke-width="0.4"/>
<text transform="matrix(1 .004 0 1 432.8 442)" font-size="1.7" fill="#6d7088" textLength="8.2" lengthAdjust="spacingAndGlyphs" stroke="#6d7088" stroke-width="0.07">Документы</text>
<rect x="413.6" y="449.25" width="7.4" height="3.1" rx="0.5" fill="#c2efdb"/>
<text transform="matrix(1 .004 0 1 414.2 451.48)" font-size="2" fill="#4f8f79" textLength="6.2" lengthAdjust="spacingAndGlyphs" stroke="#4f8f79" stroke-width="0.07">Онлайн</text>
<rect x="413.6" y="453.45" width="9.8" height="3.1" rx="0.5" fill="#c2efdb"/>
<text transform="matrix(1 .004 0 1 414.2 455.68)" font-size="2" fill="#4f8f79" textLength="8.6" lengthAdjust="spacingAndGlyphs" stroke="#4f8f79" stroke-width="0.07">Менеджеры</text>
<rect x="413.6" y="457.45" width="18" height="3.1" rx="0.5" fill="#c2efdb"/>
<text transform="matrix(1 .004 0 1 414.2 459.68)" font-size="2" fill="#4f8f79" textLength="16.8" lengthAdjust="spacingAndGlyphs" stroke="#4f8f79" stroke-width="0.07">Клиентский доступ</text>
<rect x="377.8" y="452.3" width="33.2" height="5" rx="0.9" fill="#17b978"/>
<rect x="379.8" y="453.95" width="1.9" height="1.9" rx="0.7" fill="#f3d32f" stroke="#fff" stroke-opacity="0.35" stroke-width="0.3"/>
<text transform="matrix(1 .004 0 1 383 456.15)" font-size="2.8" fill="#2b1d08" font-weight="bold" textLength="26" lengthAdjust="spacingAndGlyphs" stroke="#2b1d08" stroke-width="0.1">Отдел контроля качества</text>
<rect x="413" y="466.85" width="11" height="3.1" rx="0.5" fill="#d7e0fd"/>
<text transform="matrix(1 .004 0 1 413.6 469.08)" font-size="2" fill="#39447a" textLength="9.8" lengthAdjust="spacingAndGlyphs" stroke="#39447a" stroke-width="0.07">Наполнение</text>
<rect x="427.6" y="464.65" width="6.4" height="3.1" rx="0.5" fill="#d7e0fd"/>
<text transform="matrix(1 .004 0 1 428.2 466.88)" font-size="2" fill="#39447a" textLength="5.2" lengthAdjust="spacingAndGlyphs" stroke="#39447a" stroke-width="0.07">Оценка</text>
<rect x="427.6" y="468.85" width="10.8" height="3.1" rx="0.5" fill="#d7e0fd"/>
<text transform="matrix(1 .004 0 1 428.2 471.08)" font-size="2" fill="#39447a" textLength="9.6" lengthAdjust="spacingAndGlyphs" stroke="#39447a" stroke-width="0.07">Организации</text>
<rect x="442" y="468.85" width="4" height="3.1" rx="0.5" fill="#d7e0fd"/>
<text transform="matrix(1 .004 0 1 442.6 471.08)" font-size="2" fill="#39447a" textLength="2.8" lengthAdjust="spacingAndGlyphs" stroke="#39447a" stroke-width="0.07">HoS</text>
<rect x="413" y="472.85" width="11.6" height="3.1" rx="0.5" fill="#d7e0fd"/>
<text transform="matrix(1 .004 0 1 413.6 475.08)" font-size="2" fill="#39447a" textLength="10.4" lengthAdjust="spacingAndGlyphs" stroke="#39447a" stroke-width="0.07">Исполнители</text>
<rect x="378" y="468.8" width="32" height="5" rx="0.9" fill="#4161f3"/>
<rect x="380" y="470.45" width="1.9" height="1.9" rx="0.7" fill="#86e3a8" stroke="#fff" stroke-opacity="0.35" stroke-width="0.3"/>
<text transform="matrix(1 .004 0 1 383.2 472.65)" font-size="2.8" fill="#fff" font-weight="bold" textLength="24.8" lengthAdjust="spacingAndGlyphs" stroke="#fff" stroke-width="0.1">Корпоративная культура</text>
<rect x="409" y="482.45" width="9" height="3.1" rx="0.5" fill="#d9d6f3"/>
<text transform="matrix(1 .004 0 1 409.6 484.68)" font-size="2" fill="#3b3660" textLength="7.8" lengthAdjust="spacingAndGlyphs" stroke="#3b3660" stroke-width="0.07">Внешнее</text>
<rect x="422" y="482.45" width="20" height="3.1" rx="0.5" fill="#d9d6f3"/>
<text transform="matrix(1 .004 0 1 422.6 484.68)" font-size="2" fill="#3b3660" textLength="18.8" lengthAdjust="spacingAndGlyphs" stroke="#3b3660" stroke-width="0.07">Показатели по отделу</text>
<rect x="445" y="480.05" width="4.4" height="3.1" rx="0.5" fill="#d9d6f3"/>
<text transform="matrix(1 .004 0 1 445.6 482.28)" font-size="2" fill="#3b3660" textLength="3.2" lengthAdjust="spacingAndGlyphs" stroke="#3b3660" stroke-width="0.07">KPI</text>
<rect x="445" y="484.65" width="5" height="3.1" rx="0.5" fill="#d9d6f3"/>
<text transform="matrix(1 .004 0 1 445.6 486.88)" font-size="2" fill="#3b3660" textLength="3.8" lengthAdjust="spacingAndGlyphs" stroke="#3b3660" stroke-width="0.07">ФОТ</text>
<rect x="409" y="498.45" width="11" height="3.1" rx="0.5" fill="#d9d6f3"/>
<text transform="matrix(1 .004 0 1 409.6 500.68)" font-size="2" fill="#3b3660" textLength="9.8" lengthAdjust="spacingAndGlyphs" stroke="#3b3660" stroke-width="0.07">Показатели</text>
<rect x="423.6" y="492.85" width="34.4" height="3.1" rx="0.5" fill="#d9d6f3"/>
<text transform="matrix(1 .004 0 1 424.2 495.08)" font-size="2" fill="#3b3660" textLength="33.2" lengthAdjust="spacingAndGlyphs" stroke="#3b3660" stroke-width="0.07">Основные (организационно-управленч.)</text>
<rect x="461.4" y="488.65" width="11.6" height="3.1" rx="0.5" fill="#d9d6f3"/>
<text transform="matrix(1 .004 0 1 462 490.88)" font-size="2" fill="#3b3660" textLength="10.4" lengthAdjust="spacingAndGlyphs" stroke="#3b3660" stroke-width="0.07">Оперативный</text>
<rect x="461.4" y="492.85" width="4.6" height="3.1" rx="0.5" fill="#d9d6f3"/>
<text transform="matrix(1 .004 0 1 462 495.08)" font-size="2" fill="#3b3660" textLength="3.4" lengthAdjust="spacingAndGlyphs" stroke="#3b3660" stroke-width="0.07">ФОТ</text>
<rect x="461.4" y="497.25" width="13.2" height="3.1" rx="0.5" fill="#d9d6f3"/>
<text transform="matrix(1 .004 0 1 462 499.48)" font-size="2" fill="#3b3660" textLength="12" lengthAdjust="spacingAndGlyphs" stroke="#3b3660" stroke-width="0.07">Общий по плану</text>
<rect x="423.6" y="503.65" width="26" height="3.1" rx="0.5" fill="#d9d6f3"/>
<text transform="matrix(1 .004 0 1 424.2 505.88)" font-size="2" fill="#3b3660" textLength="24.8" lengthAdjust="spacingAndGlyphs" stroke="#3b3660" stroke-width="0.07">Основные (отдел менеджмента)</text>
<rect x="453" y="501.65" width="11" height="3.1" rx="0.5" fill="#d9d6f3"/>
<text transform="matrix(1 .004 0 1 453.6 503.88)" font-size="2" fill="#3b3660" textLength="9.8" lengthAdjust="spacingAndGlyphs" stroke="#3b3660" stroke-width="0.07">Оперативный</text>
<rect x="453" y="505.85" width="9.4" height="3.1" rx="0.5" fill="#d9d6f3"/>
<text transform="matrix(1 .004 0 1 453.6 508.08)" font-size="2" fill="#3b3660" textLength="8.2" lengthAdjust="spacingAndGlyphs" stroke="#3b3660" stroke-width="0.07">Маржин. расч</text>
<rect x="409" y="514.25" width="10.4" height="3.1" rx="0.5" fill="#d9d6f3"/>
<text transform="matrix(1 .004 0 1 409.6 516.48)" font-size="2" fill="#3b3660" textLength="9.2" lengthAdjust="spacingAndGlyphs" stroke="#3b3660" stroke-width="0.07">Управление</text>
<rect x="422.6" y="509.85" width="20" height="3.1" rx="0.5" fill="#d9d6f3"/>
<text transform="matrix(1 .004 0 1 423.2 512.08)" font-size="2" fill="#3b3660" textLength="18.8" lengthAdjust="spacingAndGlyphs" stroke="#3b3660" stroke-width="0.07">Основное обучающее</text>
<rect x="422.6" y="518.65" width="33.4" height="3.1" rx="0.5" fill="#d9d6f3"/>
<text transform="matrix(1 .004 0 1 423.2 520.88)" font-size="2" fill="#3b3660" textLength="32.2" lengthAdjust="spacingAndGlyphs" stroke="#3b3660" stroke-width="0.07">Основная комиссия (инвест-коммерч.)</text>
<rect x="459.6" y="514.25" width="11.4" height="3.1" rx="0.5" fill="#d9d6f3"/>
<text transform="matrix(1 .004 0 1 460.2 516.48)" font-size="2" fill="#3b3660" textLength="10.2" lengthAdjust="spacingAndGlyphs" stroke="#3b3660" stroke-width="0.07">Оперативный</text>
<rect x="459.6" y="518.65" width="4.4" height="3.1" rx="0.5" fill="#d9d6f3"/>
<text transform="matrix(1 .004 0 1 460.2 520.88)" font-size="2" fill="#3b3660" textLength="3.2" lengthAdjust="spacingAndGlyphs" stroke="#3b3660" stroke-width="0.07">ФОТ</text>
<rect x="467.4" y="518.65" width="4.6" height="3.1" rx="0.5" fill="#d9d6f3"/>
<text transform="matrix(1 .004 0 1 468 520.88)" font-size="2" fill="#3b3660" textLength="3.4" lengthAdjust="spacingAndGlyphs" stroke="#3b3660" stroke-width="0.07">MVP</text>
<rect x="459.6" y="522.85" width="13.4" height="3.1" rx="0.5" fill="#d9d6f3"/>
<text transform="matrix(1 .004 0 1 460.2 525.08)" font-size="2" fill="#3b3660" textLength="12.2" lengthAdjust="spacingAndGlyphs" stroke="#3b3660" stroke-width="0.07">Опережать рынок</text>
<rect x="476.6" y="522.85" width="7.4" height="3.1" rx="0.5" fill="#d9d6f3"/>
<text transform="matrix(1 .004 0 1 477.2 525.08)" font-size="2" fill="#3b3660" textLength="6.2" lengthAdjust="spacingAndGlyphs" stroke="#3b3660" stroke-width="0.07">Сроки</text>
<rect x="409" y="526.65" width="12.4" height="3.1" rx="0.5" fill="#d9d6f3"/>
<text transform="matrix(1 .004 0 1 409.6 528.88)" font-size="2" fill="#3b3660" textLength="11.2" lengthAdjust="spacingAndGlyphs" stroke="#3b3660" stroke-width="0.07">Коммуникация</text>
<rect x="409" y="530.85" width="8" height="3.1" rx="0.5" fill="#d9d6f3"/>
<text transform="matrix(1 .004 0 1 409.6 533.08)" font-size="2" fill="#3b3660" textLength="6.8" lengthAdjust="spacingAndGlyphs" stroke="#3b3660" stroke-width="0.07">Контроль</text>
<rect x="378" y="506" width="28" height="5" rx="0.9" fill="#463ab0"/>
<rect x="380" y="507.65" width="1.9" height="1.9" rx="0.7" fill="#9d83e6" stroke="#fff" stroke-opacity="0.35" stroke-width="0.3"/>
<text transform="matrix(1 .004 0 1 383.2 509.85)" font-size="2.8" fill="#fff" font-weight="bold" textLength="20.8" lengthAdjust="spacingAndGlyphs" stroke="#fff" stroke-width="0.1">Текущее управление</text>
<rect x="405.6" y="542.65" width="18.8" height="3.1" rx="0.5" fill="#fdd6d3"/>
<text transform="matrix(1 .004 0 1 406.2 544.88)" font-size="2" fill="#5b3a38" textLength="17.6" lengthAdjust="spacingAndGlyphs" stroke="#5b3a38" stroke-width="0.07">Документы управления</text>
<rect x="427.6" y="538.25" width="16" height="3.1" rx="0.5" fill="#fdd6d3"/>
<text transform="matrix(1 .004 0 1 428.2 540.48)" font-size="2" fill="#5b3a38" textLength="14.8" lengthAdjust="spacingAndGlyphs" stroke="#5b3a38" stroke-width="0.07">Протоколы и задачи</text>
<rect x="427.6" y="542.65" width="20.4" height="3.1" rx="0.5" fill="#fdd6d3"/>
<text transform="matrix(1 .004 0 1 428.2 544.88)" font-size="2" fill="#5b3a38" textLength="19.2" lengthAdjust="spacingAndGlyphs" stroke="#5b3a38" stroke-width="0.07">Должностные инструкции</text>
<rect x="427.6" y="546.85" width="17" height="3.1" rx="0.5" fill="#fdd6d3"/>
<text transform="matrix(1 .004 0 1 428.2 549.08)" font-size="2" fill="#5b3a38" textLength="15.8" lengthAdjust="spacingAndGlyphs" stroke="#5b3a38" stroke-width="0.07">Чек-листы и скрипты</text>
<rect x="405.6" y="550.85" width="29.8" height="3.1" rx="0.5" fill="#fdd6d3"/>
<text transform="matrix(1 .004 0 1 406.2 553.08)" font-size="2" fill="#5b3a38" textLength="28.6" lengthAdjust="spacingAndGlyphs" stroke="#5b3a38" stroke-width="0.07">Алгоритмы основных бизнес-процессов</text>
<rect x="378" y="545.8" width="24.6" height="5" rx="0.9" fill="#f23b31"/>
<rect x="380" y="547.45" width="1.9" height="1.9" rx="0.7" fill="#93a3bd" stroke="#fff" stroke-opacity="0.35" stroke-width="0.3"/>
<text transform="matrix(1 .004 0 1 383.2 549.65)" font-size="2.8" fill="#fff" font-weight="bold" textLength="17.4" lengthAdjust="spacingAndGlyphs" stroke="#fff" stroke-width="0.1">Бизнес процессы</text>
<rect x="400" y="558.25" width="26" height="3.1" rx="0.5" fill="#fde5ce"/>
<rect x="400.6" y="559.15" width="1.2" height="1.3" rx="0.3" fill="#2bbf7d" fill-opacity="0.9"/>
<text transform="matrix(1 .004 0 1 402.8 560.48)" font-size="2" fill="#705640" textLength="22.6" lengthAdjust="spacingAndGlyphs" stroke="#705640" stroke-width="0.07">Премиальная, стимулирующая</text>
<rect x="400" y="562.45" width="24.4" height="3.1" rx="0.5" fill="#fde5ce"/>
<rect x="400.6" y="563.35" width="1.2" height="1.3" rx="0.3" fill="#2bbf7d" fill-opacity="0.9"/>
<text transform="matrix(1 .004 0 1 402.8 564.68)" font-size="2" fill="#705640" textLength="21" lengthAdjust="spacingAndGlyphs" stroke="#705640" stroke-width="0.07">Обязанности, стимул-план</text>
<rect x="400" y="566.45" width="16" height="3.1" rx="0.5" fill="#fde5ce"/>
<rect x="400.6" y="567.35" width="1.2" height="1.3" rx="0.3" fill="#2bbf7d" fill-opacity="0.9"/>
<text transform="matrix(1 .004 0 1 402.8 568.68)" font-size="2" fill="#705640" textLength="12.6" lengthAdjust="spacingAndGlyphs" stroke="#705640" stroke-width="0.07">Социальный пакет</text>
<rect x="400" y="570.65" width="18.4" height="3.1" rx="0.5" fill="#fde5ce"/>
<rect x="400.6" y="571.55" width="1.2" height="1.3" rx="0.3" fill="#2bbf7d" fill-opacity="0.9"/>
<text transform="matrix(1 .004 0 1 402.8 572.88)" font-size="2" fill="#705640" textLength="15" lengthAdjust="spacingAndGlyphs" stroke="#705640" stroke-width="0.07">Премиальный-стимул</text>
<rect x="400" y="574.65" width="15.6" height="3.1" rx="0.5" fill="#fde5ce"/>
<rect x="400.6" y="575.55" width="1.2" height="1.3" rx="0.3" fill="#2bbf7d" fill-opacity="0.9"/>
<text transform="matrix(1 .004 0 1 402.8 576.88)" font-size="2" fill="#705640" textLength="12.2" lengthAdjust="spacingAndGlyphs" stroke="#705640" stroke-width="0.07">Девочкам-мамам</text>
<rect x="400" y="578.75" width="13.4" height="3.1" rx="0.5" fill="#fde5ce"/>
<text transform="matrix(1 .004 0 1 400.6 580.98)" font-size="2" fill="#705640" textLength="12.2" lengthAdjust="spacingAndGlyphs" stroke="#705640" stroke-width="0.07">Нематериальная</text>
<rect x="400" y="582.75" width="32" height="3.1" rx="0.5" fill="#fde5ce"/>
<text transform="matrix(1 .004 0 1 400.6 584.98)" font-size="2" fill="#705640" textLength="30.8" lengthAdjust="spacingAndGlyphs" stroke="#705640" stroke-width="0.07">Демонстрировать значимость и отношение</text>
<rect x="400" y="586.75" width="22" height="3.1" rx="0.5" fill="#fde5ce"/>
<text transform="matrix(1 .004 0 1 400.6 588.98)" font-size="2" fill="#705640" textLength="20.8" lengthAdjust="spacingAndGlyphs" stroke="#705640" stroke-width="0.07">Коммуникативная мотивация</text>
<rect x="378" y="569.8" width="18.6" height="5" rx="0.9" fill="#f7ab5e"/>
<rect x="380" y="571.45" width="1.9" height="1.9" rx="0.7" fill="#5a78f0" stroke="#fff" stroke-opacity="0.35" stroke-width="0.3"/>
<text transform="matrix(1 .004 0 1 383.2 573.65)" font-size="2.8" fill="#2b1d08" font-weight="bold" textLength="11.4" lengthAdjust="spacingAndGlyphs" stroke="#2b1d08" stroke-width="0.1">Мотивация</text>
<rect x="378" y="594.1" width="26.4" height="5" rx="0.9" fill="#f0d22e"/>
<rect x="380" y="595.75" width="1.9" height="1.9" rx="0.7" fill="#2bbf7d" stroke="#fff" stroke-opacity="0.35" stroke-width="0.3"/>
<text transform="matrix(1 .004 0 1 383.2 597.95)" font-size="2.8" fill="#2b1d08" font-weight="bold" textLength="19.2" lengthAdjust="spacingAndGlyphs" stroke="#2b1d08" stroke-width="0.1">Найм сотрудников</text>
<rect x="409" y="603.55" width="22.6" height="3.1" rx="0.5" fill="#c2efdb"/>
<text transform="matrix(1 .004 0 1 409.6 605.78)" font-size="2" fill="#4f8f79" textLength="21.4" lengthAdjust="spacingAndGlyphs" stroke="#4f8f79" stroke-width="0.07">Планы-аттестаты мотивации</text>
<rect x="409" y="607.55" width="27" height="3.1" rx="0.5" fill="#c2efdb"/>
<text transform="matrix(1 .004 0 1 409.6 609.78)" font-size="2" fill="#4f8f79" textLength="25.8" lengthAdjust="spacingAndGlyphs" stroke="#4f8f79" stroke-width="0.07">Программы обучения, повышения</text>
<rect x="378" y="604.2" width="28" height="5" rx="0.9" fill="#17b978"/>
<rect x="380" y="605.85" width="1.9" height="1.9" rx="0.7" fill="#f2453d" stroke="#fff" stroke-opacity="0.35" stroke-width="0.3"/>
<text transform="matrix(1 .004 0 1 383.2 608.05)" font-size="2.8" fill="#2b1d08" font-weight="bold" textLength="20.8" lengthAdjust="spacingAndGlyphs" stroke="#2b1d08" stroke-width="0.1">Аттестация менеджеров</text>
<rect x="397.6" y="614.65" width="10.4" height="3.1" rx="0.5" fill="#d7e0fd"/>
<text transform="matrix(1 .004 0 1 398.2 616.88)" font-size="2" fill="#39447a" textLength="9.2" lengthAdjust="spacingAndGlyphs" stroke="#39447a" stroke-width="0.07">Бизнес-план</text>
<rect x="397.6" y="618.65" width="16" height="3.1" rx="0.5" fill="#d7e0fd"/>
<text transform="matrix(1 .004 0 1 398.2 620.88)" font-size="2" fill="#39447a" textLength="14.8" lengthAdjust="spacingAndGlyphs" stroke="#39447a" stroke-width="0.07">Тактические (месяц)</text>
<rect x="397.6" y="622.85" width="13" height="3.1" rx="0.5" fill="#d7e0fd"/>
<text transform="matrix(1 .004 0 1 398.2 625.08)" font-size="2" fill="#39447a" textLength="11.8" lengthAdjust="spacingAndGlyphs" stroke="#39447a" stroke-width="0.07">Рабочие (неделя)</text>
<rect x="378" y="617.8" width="16.4" height="5" rx="0.9" fill="#4161f3"/>
<rect x="380" y="619.45" width="1.9" height="1.9" rx="0.7" fill="#f06a8a" stroke="#fff" stroke-opacity="0.35" stroke-width="0.3"/>
<text transform="matrix(1 .004 0 1 383.2 621.65)" font-size="2.8" fill="#fff" font-weight="bold" textLength="9.2" lengthAdjust="spacingAndGlyphs" stroke="#fff" stroke-width="0.1">Планинг</text>
<rect x="395" y="633.5" width="29.4" height="5.4" rx="0.5" fill="#d9d6f3"/>
<text transform="matrix(1 .004 0 1 395.6 635.73)" font-size="2" fill="#3b3660" textLength="28.2" lengthAdjust="spacingAndGlyphs" stroke="#3b3660" stroke-width="0.07">Организация работы менеджеров во</text>
<text transform="matrix(1 .004 0 1 395.6 638.03)" font-size="2" fill="#3b3660" textLength="7.05" lengthAdjust="spacingAndGlyphs" stroke="#3b3660" stroke-width="0.07">взаимном</text>
<rect x="427.6" y="630.05" width="9.4" height="3.1" rx="0.5" fill="#d9d6f3"/>
<text transform="matrix(1 .004 0 1 428.2 632.28)" font-size="2" fill="#3b3660" textLength="8.2" lengthAdjust="spacingAndGlyphs" stroke="#3b3660" stroke-width="0.07">Обучение</text>
<rect x="427.6" y="634.65" width="12.4" height="3.1" rx="0.5" fill="#d9d6f3"/>
<text transform="matrix(1 .004 0 1 428.2 636.88)" font-size="2" fill="#3b3660" textLength="11.2" lengthAdjust="spacingAndGlyphs" stroke="#3b3660" stroke-width="0.07">Разбор работы</text>
<rect x="427.6" y="638.65" width="6.4" height="3.1" rx="0.5" fill="#d9d6f3"/>
<text transform="matrix(1 .004 0 1 428.2 640.88)" font-size="2" fill="#3b3660" textLength="5.2" lengthAdjust="spacingAndGlyphs" stroke="#3b3660" stroke-width="0.07">Задачи</text>
<rect x="378" y="633.5" width="13.6" height="5" rx="0.9" fill="#463ab0"/>
<text transform="matrix(1 .004 0 1 380.1 637.35)" font-size="2.8" fill="#fff" font-weight="bold" textLength="9.5" lengthAdjust="spacingAndGlyphs" stroke="#fff" stroke-width="0.1">Отчётность</text>
</svg>
</body></html>
